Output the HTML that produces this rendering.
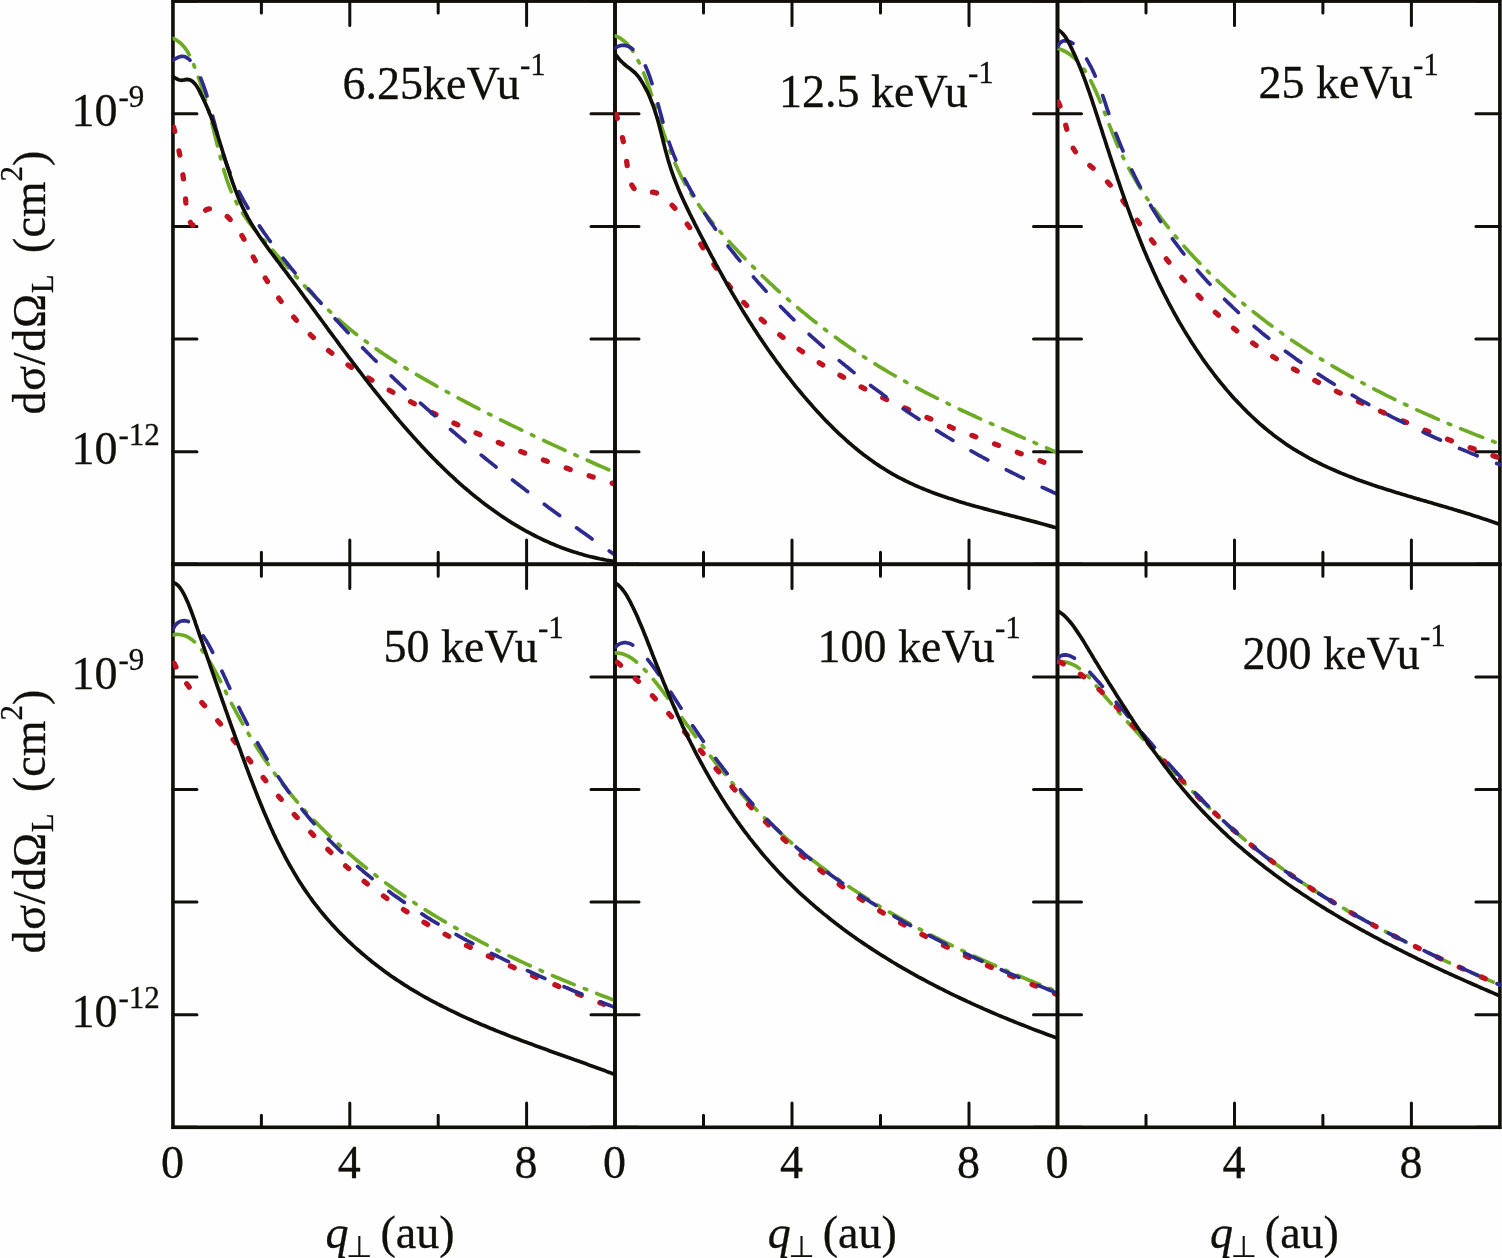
<!DOCTYPE html>
<html lang="en"><head><meta charset="utf-8"><title>Differential cross sections</title>
<style>html,body{margin:0;padding:0;background:#fefefe}body{width:1502px;height:1258px;overflow:hidden}svg{display:block}</style>
</head><body>
<svg width="1502" height="1258" viewBox="0 0 1502 1258" role="img" aria-label="Differential cross sections versus transverse momentum transfer for six impact energies">
<rect width="1502" height="1258" fill="#fefefe"/>
<defs>
<clipPath id="cp1"><rect x="172.55" y="1.1" width="444.25" height="564.9999999999999"/></clipPath>
<clipPath id="cp2"><rect x="614.60" y="1.1" width="444.70" height="564.9999999999999"/></clipPath>
<clipPath id="cp3"><rect x="1057.10" y="1.1" width="444.60" height="564.9999999999999"/></clipPath>
<clipPath id="cp4"><rect x="172.55" y="564.3" width="444.25" height="564.8"/></clipPath>
<clipPath id="cp5"><rect x="614.60" y="564.3" width="444.70" height="564.8"/></clipPath>
<clipPath id="cp6"><rect x="1057.10" y="564.3" width="444.60" height="564.8"/></clipPath>
</defs>
<g fill="none" stroke="#100f0a">
<rect x="172.95" y="1.1" width="442.05" height="563.20" stroke-width="3.6"/>
<path d="M261.4 1.1v12.0M261.4 564.3v-12.0M349.8 1.1v24.3M349.8 564.3v-24.3M438.2 1.1v12.0M438.2 564.3v-12.0M526.6 1.1v24.3M526.6 564.3v-24.3M172.95 1.1h24.0M615.0 1.1h-24.0M172.95 113.7h24.0M615.0 113.7h-24.0M172.95 226.4h24.0M615.0 226.4h-24.0M172.95 339.0h24.0M615.0 339.0h-24.0M172.95 451.7h24.0M615.0 451.7h-24.0M172.95 564.3h24.0M615.0 564.3h-24.0" stroke-width="3.0" stroke-linecap="round"/>
</g>
<g clip-path="url(#cp1)" fill="none" stroke-linecap="round" stroke-linejoin="round">
<path d="M173.1 38.4L175.8 39.8L178.4 41.5L180.7 43.3L182.7 45.4L184.7 47.6L186.4 50.0L188.0 52.5L189.4 55.1L190.8 57.8L192.0 60.6L193.2 63.4L194.3 66.2L195.4 69.1L196.5 72.0L197.5 74.8L198.5 77.7L199.5 80.6L200.5 83.4L201.4 86.3L202.3 89.2L203.2 92.1L204.1 94.9L205.0 97.8L205.8 100.7L206.7 103.6L207.5 106.5L208.3 109.4L209.1 112.3L209.8 115.2L210.6 118.1L211.4 121.0L212.1 123.9L212.8 126.8L213.6 129.8L214.3 132.7L215.0 135.6L215.7 138.6L216.5 141.5L217.2 144.5L217.9 147.4L218.6 150.4L219.4 153.3L220.1 156.3L220.9 159.2L221.6 162.2L222.4 165.1L223.3 168.0L224.1 170.9L225.0 173.8L225.9 176.7L226.8 179.6L227.8 182.5L228.8 185.3L229.9 188.1L231.0 190.9L232.2 193.6L233.4 196.4L234.6 199.1L236.0 201.7L237.3 204.4L238.8 207.0L240.3 209.5L241.9 212.1L243.5 214.6L245.2 217.0L246.9 219.5L248.7 221.9L250.6 224.3L252.4 226.6L254.3 229.0L256.3 231.3L258.2 233.6L260.2 236.0L262.2 238.3L264.2 240.5L266.2 242.8L268.2 245.1L270.2 247.4L272.2 249.7L274.2 252.0L276.1 254.3L278.1 256.5L280.1 258.8L282.2 261.1L284.2 263.4L286.2 265.6L288.2 267.9L290.2 270.1L292.2 272.4L294.2 274.6L296.3 276.9L298.3 279.1L300.3 281.3L302.4 283.5L304.4 285.7L306.5 287.9L308.6 290.1L310.6 292.3L312.7 294.4L314.8 296.6L316.9 298.7L319.0 300.9L321.2 303.0L323.3 305.1L325.4 307.2L327.6 309.3L329.8 311.3L332.0 313.4L334.2 315.4L336.4 317.4L338.6 319.4L340.9 321.4L343.1 323.4L345.4 325.3L347.7 327.3L350.0 329.2L352.3 331.1L354.7 333.0L357.1 334.8L359.4 336.7L361.8 338.5L364.2 340.3L366.7 342.1L369.1 343.9L371.6 345.7L374.0 347.4L376.5 349.1L379.0 350.9L381.5 352.6L384.0 354.3L386.5 355.9L389.0 357.6L391.6 359.3L394.1 360.9L396.7 362.5L399.3 364.1L401.8 365.7L404.4 367.3L407.0 368.9L409.6 370.5L412.2 372.1L414.8 373.6L417.4 375.1L420.1 376.7L422.7 378.2L425.3 379.7L427.9 381.2L430.6 382.7L433.2 384.2L435.9 385.7L438.5 387.2L441.1 388.7L443.8 390.1L446.4 391.6L449.1 393.0L451.7 394.5L454.4 395.9L457.0 397.4L459.7 398.8L462.4 400.2L465.0 401.6L467.7 403.0L470.4 404.4L473.0 405.8L475.7 407.2L478.4 408.6L481.1 410.0L483.8 411.3L486.4 412.7L489.1 414.1L491.8 415.4L494.5 416.8L497.2 418.1L499.9 419.5L502.6 420.8L505.3 422.1L508.0 423.5L510.7 424.8L513.4 426.1L516.1 427.4L518.8 428.7L521.5 430.0L524.2 431.3L527.0 432.6L529.7 433.9L532.4 435.2L535.1 436.5L537.8 437.8L540.6 439.0L543.3 440.3L546.0 441.6L548.8 442.9L551.5 444.1L554.2 445.4L557.0 446.6L559.7 447.9L562.5 449.1L565.2 450.4L568.0 451.6L570.7 452.9L573.5 454.1L576.2 455.4L579.0 456.6L581.7 457.8L584.5 459.1L587.3 460.3L590.0 461.5L592.8 462.7L595.6 464.0L598.3 465.2L601.1 466.4L603.9 467.6L606.7 468.8L609.4 470.1L612.2 471.3L615.0 472.5" stroke="#6eab24" stroke-width="3.7" stroke-dasharray="23.5 10.8 2.6 10.9" stroke-dashoffset="0"/>
<path d="M173.0 125.0L173.8 127.9L174.5 130.8L175.3 133.7L176.0 136.6L176.6 139.6L177.3 142.5L177.9 145.5L178.5 148.4L179.1 151.4L179.7 154.4L180.2 157.4L180.8 160.3L181.3 163.3L181.7 166.3L182.2 169.3L182.6 172.3L183.0 175.3L183.4 178.3L183.8 181.3L184.2 184.3L184.5 187.3L184.8 190.3L185.1 193.3L185.4 196.2L185.6 199.2L185.8 202.2L186.1 205.2L186.4 208.1L186.8 211.1L187.4 214.1L188.2 217.1L189.3 220.1L190.8 223.1L192.5 225.2L194.4 225.1L196.3 223.1L198.3 220.0L200.3 216.6L202.2 213.6L204.2 211.3L206.4 209.6L209.1 208.8L212.1 208.7L215.3 209.2L218.2 210.2L220.9 211.6L223.5 213.2L225.8 215.1L228.0 217.2L230.1 219.4L232.1 221.6L234.0 223.9L235.8 226.3L237.5 228.7L239.1 231.2L240.7 233.7L242.3 236.3L243.8 238.9L245.3 241.6L246.7 244.2L248.1 246.9L249.5 249.6L250.9 252.3L252.3 255.1L253.7 257.8L255.2 260.5L256.6 263.1L258.1 265.8L259.6 268.5L261.1 271.1L262.7 273.7L264.2 276.3L265.8 278.9L267.5 281.5L269.1 284.1L270.7 286.6L272.4 289.1L274.1 291.6L275.9 294.1L277.6 296.6L279.4 299.1L281.2 301.5L283.0 303.9L284.8 306.3L286.7 308.7L288.6 311.0L290.5 313.3L292.4 315.7L294.4 317.9L296.4 320.2L298.4 322.4L300.4 324.6L302.5 326.8L304.6 329.0L306.7 331.1L308.8 333.2L311.0 335.3L313.2 337.4L315.4 339.4L317.6 341.4L319.9 343.4L322.1 345.3L324.4 347.3L326.8 349.2L329.1 351.0L331.5 352.9L333.9 354.7L336.3 356.5L338.7 358.3L341.1 360.1L343.6 361.8L346.0 363.6L348.5 365.3L351.0 367.0L353.5 368.7L356.1 370.3L358.6 371.9L361.1 373.6L363.7 375.2L366.3 376.8L368.9 378.3L371.5 379.9L374.1 381.5L376.7 383.0L379.3 384.5L381.9 386.0L384.5 387.5L387.2 389.0L389.8 390.5L392.5 392.0L395.1 393.4L397.8 394.9L400.4 396.3L403.1 397.8L405.7 399.2L408.4 400.6L411.1 402.0L413.7 403.4L416.4 404.8L419.1 406.2L421.8 407.5L424.5 408.9L427.2 410.2L429.9 411.6L432.6 412.9L435.3 414.2L438.0 415.5L440.7 416.9L443.4 418.2L446.1 419.4L448.9 420.7L451.6 422.0L454.3 423.3L457.1 424.5L459.8 425.8L462.5 427.0L465.3 428.3L468.0 429.5L470.8 430.7L473.5 431.9L476.3 433.1L479.1 434.3L481.8 435.5L484.6 436.7L487.4 437.9L490.2 439.1L492.9 440.2L495.7 441.4L498.5 442.5L501.3 443.7L504.1 444.8L506.9 445.9L509.7 447.1L512.5 448.2L515.3 449.3L518.1 450.4L520.9 451.5L523.7 452.6L526.6 453.7L529.4 454.7L532.2 455.8L535.0 456.9L537.9 457.9L540.7 459.0L543.5 460.0L546.4 461.0L549.2 462.1L552.0 463.1L554.9 464.1L557.7 465.1L560.6 466.1L563.4 467.1L566.3 468.1L569.1 469.1L572.0 470.1L574.8 471.0L577.7 472.0L580.5 473.0L583.4 473.9L586.3 474.9L589.1 475.8L592.0 476.7L594.9 477.7L597.7 478.6L600.6 479.5L603.5 480.4L606.4 481.3L609.2 482.2L612.1 483.1L615.0 484.0" stroke="#c1121f" stroke-width="5.3" stroke-dasharray="4.2 20.0" stroke-dashoffset="-2.4"/>
<path d="M173.0 60.0L175.1 58.9L178.2 57.3L181.6 56.3L184.6 56.5L187.1 57.9L189.4 59.6L191.4 61.7L193.3 63.9L195.0 66.3L196.5 68.9L197.9 71.6L199.2 74.4L200.4 77.3L201.5 80.2L202.6 83.1L203.7 86.0L204.7 88.9L205.7 91.8L206.6 94.7L207.5 97.7L208.4 100.6L209.2 103.6L210.1 106.5L210.9 109.5L211.7 112.5L212.5 115.4L213.2 118.4L214.0 121.3L214.8 124.3L215.5 127.2L216.3 130.2L217.1 133.1L217.8 136.0L218.6 139.0L219.4 141.9L220.3 144.8L221.1 147.7L222.0 150.6L222.9 153.4L223.8 156.3L224.8 159.1L225.8 162.0L226.8 164.8L227.9 167.6L229.0 170.4L230.2 173.1L231.3 175.9L232.6 178.6L233.8 181.3L235.1 184.0L236.4 186.7L237.7 189.4L239.1 192.1L240.5 194.7L241.9 197.4L243.3 200.0L244.8 202.6L246.3 205.2L247.8 207.8L249.4 210.4L251.0 212.9L252.6 215.5L254.2 218.0L255.8 220.6L257.5 223.1L259.2 225.6L260.9 228.1L262.6 230.6L264.3 233.1L266.1 235.5L267.8 238.0L269.6 240.5L271.4 242.9L273.2 245.3L275.1 247.8L276.9 250.2L278.8 252.6L280.6 255.0L282.5 257.4L284.4 259.8L286.3 262.2L288.2 264.5L290.1 266.9L292.0 269.3L294.0 271.6L295.9 273.9L297.8 276.3L299.8 278.6L301.7 280.9L303.7 283.3L305.7 285.6L307.6 287.9L309.6 290.2L311.6 292.5L313.6 294.8L315.6 297.1L317.6 299.4L319.6 301.6L321.6 303.9L323.6 306.2L325.6 308.4L327.7 310.7L329.7 312.9L331.7 315.2L333.8 317.4L335.8 319.6L337.9 321.8L340.0 324.1L342.0 326.3L344.1 328.5L346.2 330.7L348.3 332.9L350.3 335.1L352.4 337.2L354.5 339.4L356.6 341.6L358.7 343.8L360.9 345.9L363.0 348.1L365.1 350.2L367.2 352.4L369.4 354.5L371.5 356.7L373.6 358.8L375.8 360.9L377.9 363.0L380.1 365.1L382.2 367.3L384.4 369.4L386.6 371.5L388.8 373.6L390.9 375.6L393.1 377.7L395.3 379.8L397.5 381.9L399.7 384.0L401.9 386.0L404.1 388.1L406.3 390.1L408.6 392.2L410.8 394.2L413.0 396.3L415.2 398.3L417.5 400.3L419.7 402.4L421.9 404.4L424.2 406.4L426.4 408.4L428.7 410.4L431.0 412.4L433.2 414.4L435.5 416.4L437.8 418.4L440.0 420.4L442.3 422.4L444.6 424.4L446.9 426.3L449.2 428.3L451.5 430.3L453.8 432.2L456.1 434.2L458.4 436.1L460.7 438.1L463.0 440.0L465.3 442.0L467.6 443.9L470.0 445.8L472.3 447.8L474.6 449.7L477.0 451.6L479.3 453.5L481.6 455.4L484.0 457.3L486.3 459.2L488.7 461.1L491.1 463.0L493.4 464.9L495.8 466.8L498.1 468.7L500.5 470.6L502.9 472.4L505.3 474.3L507.6 476.2L510.0 478.0L512.4 479.9L514.8 481.7L517.2 483.6L519.6 485.4L522.0 487.3L524.4 489.1L526.8 491.0L529.2 492.8L531.6 494.6L534.0 496.5L536.4 498.3L538.8 500.1L541.3 501.9L543.7 503.7L546.1 505.6L548.5 507.4L551.0 509.2L553.4 511.0L555.8 512.8L558.3 514.6L560.7 516.4L563.2 518.1L565.6 519.9L568.1 521.7L570.5 523.5L573.0 525.3L575.4 527.0L577.9 528.8L580.3 530.6L582.8 532.3L585.3 534.1L587.7 535.8L590.2 537.6L592.7 539.4L595.1 541.1L597.6 542.8L600.1 544.6L602.6 546.3L605.1 548.1L607.5 549.8L610.0 551.5L612.5 553.3L615.0 555.0" stroke="#2e2b8f" stroke-width="3.7" stroke-dasharray="19 21" stroke-dashoffset="0"/>
<path d="M173.0 76.5L175.5 78.2L178.2 79.7L181.1 80.3L184.1 79.9L187.0 79.4L189.9 79.9L192.5 81.4L194.8 83.6L196.6 86.0L198.2 88.6L199.5 91.2L200.8 93.9L202.2 96.6L203.5 99.4L204.7 102.1L206.0 104.9L207.2 107.6L208.4 110.4L209.5 113.2L210.7 116.0L211.7 118.8L212.8 121.6L213.8 124.4L214.8 127.3L215.8 130.1L216.8 133.0L217.8 135.8L218.7 138.7L219.6 141.6L220.5 144.5L221.4 147.4L222.3 150.3L223.2 153.2L224.1 156.1L225.0 159.0L225.9 161.9L226.8 164.8L227.7 167.7L228.7 170.6L229.6 173.5L230.5 176.3L231.5 179.2L232.5 182.1L233.5 184.9L234.5 187.7L235.6 190.6L236.7 193.4L237.8 196.2L238.9 198.9L240.1 201.7L241.3 204.4L242.6 207.2L243.9 209.9L245.2 212.5L246.6 215.2L248.0 217.8L249.5 220.4L251.0 223.0L252.6 225.6L254.2 228.2L255.8 230.7L257.5 233.2L259.1 235.7L260.8 238.2L262.6 240.7L264.3 243.2L266.1 245.7L267.9 248.1L269.7 250.6L271.5 253.0L273.3 255.4L275.2 257.9L277.0 260.3L278.9 262.7L280.7 265.1L282.5 267.6L284.4 270.0L286.2 272.4L288.0 274.8L289.8 277.3L291.6 279.7L293.4 282.1L295.3 284.6L297.1 287.0L298.9 289.4L300.7 291.9L302.5 294.3L304.2 296.7L306.0 299.2L307.8 301.6L309.6 304.0L311.4 306.5L313.2 308.9L315.0 311.3L316.7 313.7L318.5 316.2L320.3 318.6L322.1 321.0L323.9 323.5L325.7 325.9L327.4 328.3L329.2 330.8L331.0 333.2L332.8 335.6L334.6 338.0L336.4 340.4L338.2 342.9L339.9 345.3L341.7 347.7L343.5 350.1L345.3 352.5L347.1 354.9L348.9 357.3L350.7 359.7L352.5 362.1L354.4 364.5L356.2 366.9L358.0 369.3L359.8 371.7L361.7 374.1L363.5 376.5L365.3 378.9L367.2 381.2L369.0 383.6L370.9 386.0L372.7 388.4L374.6 390.7L376.5 393.1L378.4 395.4L380.3 397.8L382.1 400.1L384.0 402.5L386.0 404.8L387.9 407.2L389.8 409.5L391.7 411.8L393.7 414.1L395.6 416.5L397.6 418.8L399.5 421.1L401.5 423.4L403.5 425.7L405.5 428.0L407.5 430.3L409.5 432.5L411.5 434.8L413.5 437.1L415.6 439.3L417.6 441.6L419.7 443.8L421.7 446.1L423.8 448.3L425.9 450.5L428.0 452.7L430.1 454.9L432.2 457.1L434.3 459.2L436.5 461.4L438.6 463.6L440.8 465.7L443.0 467.8L445.1 469.9L447.3 472.0L449.5 474.1L451.8 476.2L454.0 478.2L456.2 480.3L458.5 482.3L460.7 484.3L463.0 486.3L465.3 488.3L467.6 490.2L469.9 492.2L472.2 494.1L474.5 496.0L476.9 497.9L479.3 499.8L481.6 501.6L484.0 503.5L486.4 505.3L488.8 507.1L491.2 508.8L493.7 510.6L496.1 512.3L498.6 514.0L501.0 515.7L503.5 517.4L506.0 519.0L508.5 520.7L511.1 522.3L513.6 523.8L516.2 525.4L518.7 526.9L521.3 528.4L523.9 529.9L526.5 531.3L529.1 532.7L531.8 534.1L534.4 535.5L537.1 536.9L539.8 538.2L542.5 539.5L545.2 540.7L547.9 541.9L550.7 543.2L553.4 544.3L556.2 545.5L559.0 546.6L561.8 547.7L564.6 548.7L567.5 549.7L570.3 550.7L573.2 551.7L576.1 552.6L579.0 553.5L581.9 554.3L584.8 555.2L587.8 556.0L590.7 556.7L593.7 557.4L596.7 558.1L599.7 558.8L602.7 559.4L605.8 560.0L608.9 560.5L611.9 561.0L615.0 561.5" stroke="#100f0a" stroke-width="3.7" stroke-linecap="butt"/>
</g>
<g fill="none" stroke="#100f0a">
<rect x="615.0" y="1.1" width="442.50" height="563.20" stroke-width="3.6"/>
<path d="M703.5 1.1v12.0M703.5 564.3v-12.0M792.0 1.1v24.3M792.0 564.3v-24.3M880.5 1.1v12.0M880.5 564.3v-12.0M969.0 1.1v24.3M969.0 564.3v-24.3M615.0 1.1h24.0M1057.5 1.1h-24.0M615.0 113.7h24.0M1057.5 113.7h-24.0M615.0 226.4h24.0M1057.5 226.4h-24.0M615.0 339.0h24.0M1057.5 339.0h-24.0M615.0 451.7h24.0M1057.5 451.7h-24.0M615.0 564.3h24.0M1057.5 564.3h-24.0" stroke-width="3.0" stroke-linecap="round"/>
</g>
<g clip-path="url(#cp2)" fill="none" stroke-linecap="round" stroke-linejoin="round">
<path d="M615.5 35.9L618.3 37.2L620.9 38.7L623.3 40.4L625.5 42.3L627.6 44.4L629.5 46.6L631.3 48.9L633.0 51.4L634.6 53.9L636.0 56.6L637.4 59.3L638.8 62.0L640.1 64.7L641.3 67.5L642.5 70.3L643.7 73.1L644.8 75.9L645.9 78.7L646.9 81.6L648.0 84.4L649.0 87.3L650.0 90.2L650.9 93.0L651.9 95.9L652.8 98.8L653.7 101.7L654.6 104.6L655.5 107.5L656.4 110.4L657.3 113.3L658.2 116.2L659.1 119.1L660.0 122.0L661.0 124.9L661.9 127.8L662.8 130.7L663.8 133.5L664.8 136.4L665.7 139.2L666.7 142.1L667.8 144.9L668.8 147.7L669.9 150.5L671.0 153.3L672.1 156.1L673.2 158.9L674.4 161.6L675.5 164.4L676.8 167.1L678.0 169.8L679.3 172.5L680.6 175.2L681.9 177.8L683.3 180.5L684.7 183.1L686.2 185.7L687.7 188.2L689.3 190.8L690.8 193.3L692.4 195.8L694.1 198.3L695.8 200.8L697.5 203.3L699.3 205.7L701.0 208.1L702.8 210.5L704.7 212.9L706.5 215.3L708.4 217.7L710.3 220.0L712.2 222.3L714.2 224.7L716.1 227.0L718.1 229.3L720.1 231.5L722.1 233.8L724.1 236.1L726.1 238.3L728.2 240.6L730.2 242.8L732.2 245.1L734.3 247.3L736.4 249.5L738.4 251.7L740.5 253.9L742.6 256.1L744.7 258.3L746.8 260.4L748.9 262.6L751.0 264.8L753.2 266.9L755.3 269.0L757.5 271.1L759.6 273.3L761.8 275.4L764.0 277.5L766.2 279.5L768.3 281.6L770.5 283.7L772.8 285.7L775.0 287.8L777.2 289.8L779.4 291.8L781.7 293.8L783.9 295.8L786.2 297.8L788.5 299.8L790.7 301.8L793.0 303.8L795.3 305.7L797.6 307.7L799.9 309.6L802.2 311.5L804.6 313.4L806.9 315.3L809.2 317.2L811.6 319.1L813.9 321.0L816.3 322.8L818.7 324.7L821.1 326.5L823.5 328.4L825.9 330.2L828.3 332.0L830.7 333.8L833.1 335.6L835.5 337.3L838.0 339.1L840.4 340.9L842.9 342.6L845.3 344.3L847.8 346.0L850.3 347.8L852.7 349.4L855.2 351.1L857.7 352.8L860.2 354.5L862.8 356.1L865.3 357.8L867.8 359.4L870.4 361.0L872.9 362.6L875.5 364.2L878.0 365.8L880.6 367.3L883.2 368.9L885.7 370.4L888.3 372.0L890.9 373.5L893.5 375.0L896.2 376.5L898.8 378.0L901.4 379.5L904.0 380.9L906.7 382.4L909.3 383.9L912.0 385.3L914.6 386.7L917.3 388.1L920.0 389.5L922.6 390.9L925.3 392.3L928.0 393.7L930.7 395.1L933.4 396.4L936.1 397.8L938.8 399.1L941.5 400.5L944.2 401.8L946.9 403.1L949.6 404.5L952.4 405.8L955.1 407.1L957.8 408.4L960.6 409.7L963.3 411.0L966.0 412.2L968.8 413.5L971.5 414.8L974.3 416.0L977.0 417.3L979.8 418.6L982.5 419.8L985.3 421.0L988.0 422.3L990.8 423.5L993.6 424.8L996.3 426.0L999.1 427.2L1001.8 428.4L1004.6 429.6L1007.4 430.9L1010.1 432.1L1012.9 433.3L1015.7 434.5L1018.4 435.7L1021.2 436.9L1023.9 438.1L1026.7 439.3L1029.5 440.5L1032.2 441.7L1035.0 442.9L1037.7 444.1L1040.5 445.3L1043.3 446.5L1046.0 447.7L1048.8 448.9L1051.5 450.1L1054.3 451.3L1057.0 452.5" stroke="#6eab24" stroke-width="3.7" stroke-dasharray="23.5 10.8 2.6 10.9" stroke-dashoffset="0"/>
<path d="M615.4 112.0L616.3 114.9L617.2 117.7L618.1 120.6L618.9 123.5L619.7 126.5L620.5 129.4L621.2 132.3L621.9 135.2L622.6 138.2L623.2 141.1L623.8 144.1L624.4 147.0L624.9 149.9L625.4 152.9L625.9 155.9L626.3 158.9L626.7 161.9L627.1 164.9L627.5 168.0L627.8 171.1L628.3 174.1L628.9 177.1L629.7 180.0L630.8 182.9L632.1 185.6L633.8 188.2L635.9 190.5L638.3 192.2L641.0 193.0L644.0 193.0L647.1 192.6L650.3 192.2L653.3 192.2L656.1 192.8L658.9 193.9L661.4 195.4L663.9 197.2L666.3 199.3L668.6 201.5L670.8 203.9L673.0 206.2L675.1 208.6L677.1 211.0L679.1 213.5L681.0 215.9L682.9 218.3L684.8 220.8L686.6 223.3L688.4 225.8L690.2 228.2L691.9 230.7L693.6 233.2L695.3 235.7L697.0 238.3L698.6 240.8L700.2 243.3L701.8 245.8L703.4 248.3L705.0 250.8L706.6 253.3L708.2 255.8L709.8 258.3L711.4 260.8L713.1 263.3L714.7 265.7L716.3 268.2L718.0 270.6L719.7 273.1L721.4 275.5L723.1 277.9L724.9 280.2L726.7 282.6L728.5 285.0L730.3 287.3L732.2 289.6L734.2 291.9L736.1 294.1L738.1 296.4L740.1 298.6L742.2 300.8L744.3 303.0L746.4 305.2L748.5 307.3L750.7 309.4L752.9 311.6L755.1 313.6L757.3 315.7L759.5 317.8L761.8 319.8L764.1 321.8L766.4 323.8L768.7 325.8L771.0 327.8L773.4 329.7L775.7 331.6L778.1 333.5L780.5 335.4L782.9 337.3L785.3 339.1L787.7 341.0L790.1 342.8L792.5 344.6L795.0 346.3L797.4 348.1L799.9 349.9L802.4 351.6L804.9 353.3L807.4 355.0L809.9 356.7L812.4 358.3L814.9 360.0L817.4 361.6L820.0 363.2L822.5 364.8L825.1 366.4L827.6 368.0L830.2 369.5L832.8 371.1L835.4 372.6L838.0 374.1L840.6 375.6L843.2 377.1L845.8 378.6L848.4 380.1L851.1 381.5L853.7 382.9L856.4 384.4L859.0 385.8L861.7 387.2L864.4 388.6L867.0 389.9L869.7 391.3L872.4 392.6L875.1 394.0L877.8 395.3L880.5 396.6L883.2 397.9L885.9 399.2L888.7 400.5L891.4 401.8L894.1 403.1L896.9 404.3L899.6 405.6L902.4 406.8L905.1 408.1L907.9 409.3L910.6 410.5L913.4 411.7L916.2 412.9L918.9 414.1L921.7 415.3L924.5 416.5L927.3 417.6L930.1 418.8L932.9 419.9L935.7 421.1L938.5 422.2L941.3 423.4L944.1 424.5L946.9 425.6L949.7 426.7L952.5 427.9L955.3 429.0L958.1 430.1L960.9 431.2L963.8 432.3L966.6 433.3L969.4 434.4L972.2 435.5L975.1 436.6L977.9 437.7L980.7 438.7L983.5 439.8L986.4 440.9L989.2 441.9L992.0 443.0L994.9 444.0L997.7 445.1L1000.5 446.1L1003.4 447.2L1006.2 448.2L1009.0 449.3L1011.9 450.3L1014.7 451.4L1017.5 452.4L1020.3 453.4L1023.2 454.5L1026.0 455.5L1028.8 456.6L1031.6 457.6L1034.5 458.6L1037.3 459.7L1040.1 460.7L1042.9 461.8L1045.7 462.8L1048.6 463.9L1051.4 464.9L1054.2 466.0L1057.0 467.0" stroke="#c1121f" stroke-width="5.3" stroke-dasharray="4.2 20.0" stroke-dashoffset="-2.4"/>
<path d="M615.4 47.9L618.5 46.2L621.5 45.3L624.3 45.3L627.0 45.9L629.6 47.0L632.0 48.6L634.3 50.4L636.4 52.4L638.3 54.6L640.1 57.0L641.8 59.4L643.3 62.0L644.8 64.7L646.1 67.5L647.3 70.4L648.5 73.3L649.6 76.3L650.6 79.3L651.6 82.3L652.6 85.3L653.5 88.3L654.4 91.3L655.2 94.3L656.1 97.3L656.9 100.3L657.8 103.3L658.6 106.3L659.4 109.2L660.2 112.2L661.0 115.1L661.8 118.0L662.6 120.9L663.4 123.8L664.2 126.7L665.1 129.6L665.9 132.5L666.8 135.4L667.7 138.2L668.7 141.1L669.6 143.9L670.6 146.7L671.6 149.5L672.7 152.3L673.8 155.1L674.9 157.8L676.1 160.6L677.2 163.3L678.5 166.1L679.7 168.8L681.0 171.5L682.3 174.2L683.6 176.9L684.9 179.5L686.3 182.2L687.7 184.9L689.2 187.5L690.6 190.1L692.1 192.7L693.6 195.4L695.1 198.0L696.7 200.5L698.2 203.1L699.8 205.7L701.4 208.2L703.0 210.8L704.7 213.3L706.4 215.8L708.0 218.4L709.7 220.9L711.5 223.4L713.2 225.8L714.9 228.3L716.7 230.8L718.5 233.2L720.3 235.7L722.1 238.1L723.9 240.5L725.7 243.0L727.6 245.4L729.4 247.8L731.3 250.2L733.2 252.5L735.1 254.9L736.9 257.3L738.9 259.6L740.8 262.0L742.7 264.3L744.6 266.6L746.6 269.0L748.5 271.3L750.5 273.6L752.5 275.8L754.4 278.1L756.4 280.4L758.4 282.7L760.5 284.9L762.5 287.2L764.5 289.4L766.5 291.6L768.6 293.9L770.7 296.1L772.7 298.3L774.8 300.5L776.9 302.6L779.0 304.8L781.1 307.0L783.2 309.1L785.3 311.3L787.5 313.4L789.6 315.6L791.7 317.7L793.9 319.8L796.1 321.9L798.2 324.0L800.4 326.1L802.6 328.1L804.8 330.2L807.0 332.3L809.2 334.3L811.4 336.4L813.7 338.4L815.9 340.4L818.2 342.4L820.4 344.4L822.7 346.4L824.9 348.4L827.2 350.4L829.5 352.4L831.8 354.3L834.1 356.3L836.4 358.2L838.7 360.2L841.1 362.1L843.4 364.0L845.7 365.9L848.1 367.8L850.4 369.7L852.8 371.6L855.1 373.5L857.5 375.4L859.9 377.2L862.3 379.1L864.7 380.9L867.1 382.8L869.5 384.6L871.9 386.4L874.3 388.2L876.8 390.0L879.2 391.8L881.6 393.6L884.1 395.4L886.5 397.1L889.0 398.9L891.5 400.6L893.9 402.4L896.4 404.1L898.9 405.8L901.4 407.5L903.9 409.2L906.4 410.9L908.9 412.6L911.4 414.3L913.9 416.0L916.5 417.6L919.0 419.3L921.5 420.9L924.1 422.6L926.6 424.2L929.2 425.8L931.7 427.5L934.3 429.1L936.9 430.7L939.4 432.2L942.0 433.8L944.6 435.4L947.2 437.0L949.8 438.5L952.4 440.1L955.0 441.6L957.6 443.1L960.2 444.7L962.8 446.2L965.4 447.7L968.1 449.2L970.7 450.7L973.3 452.1L976.0 453.6L978.6 455.1L981.3 456.5L983.9 458.0L986.6 459.4L989.3 460.8L991.9 462.3L994.6 463.7L997.3 465.1L999.9 466.5L1002.6 467.9L1005.3 469.3L1008.0 470.6L1010.7 472.0L1013.4 473.4L1016.1 474.7L1018.8 476.1L1021.5 477.4L1024.2 478.7L1026.9 480.0L1029.6 481.3L1032.4 482.6L1035.1 483.9L1037.8 485.2L1040.6 486.5L1043.3 487.8L1046.0 489.0L1048.8 490.3L1051.5 491.5L1054.2 492.8L1057.0 494.0" stroke="#2e2b8f" stroke-width="3.7" stroke-dasharray="19 21" stroke-dashoffset="0"/>
<path d="M615.4 54.5L617.3 56.8L619.3 59.2L621.3 61.4L623.5 63.5L625.8 65.5L628.1 67.3L630.6 69.1L632.9 71.0L635.2 73.0L637.2 75.2L639.1 77.6L640.8 80.1L642.4 82.7L643.9 85.3L645.4 88.0L646.8 90.6L648.1 93.3L649.3 96.1L650.5 98.9L651.6 101.7L652.7 104.5L653.7 107.3L654.7 110.2L655.6 113.1L656.5 116.0L657.4 118.9L658.2 121.8L659.0 124.7L659.8 127.7L660.5 130.6L661.3 133.6L662.0 136.6L662.8 139.5L663.5 142.5L664.3 145.5L665.0 148.4L665.8 151.4L666.6 154.3L667.4 157.3L668.2 160.2L669.1 163.1L670.0 166.0L670.9 168.9L671.9 171.8L672.9 174.6L673.9 177.5L675.0 180.3L676.1 183.1L677.2 185.9L678.3 188.7L679.5 191.4L680.7 194.2L681.9 196.9L683.2 199.7L684.4 202.4L685.7 205.1L687.0 207.9L688.3 210.6L689.6 213.3L691.0 216.0L692.3 218.7L693.7 221.4L695.0 224.1L696.4 226.8L697.8 229.5L699.1 232.2L700.5 234.8L701.9 237.5L703.3 240.2L704.7 242.9L706.1 245.6L707.5 248.3L708.9 250.9L710.3 253.6L711.7 256.3L713.2 258.9L714.6 261.6L716.0 264.3L717.5 266.9L718.9 269.6L720.4 272.2L721.9 274.9L723.3 277.5L724.8 280.2L726.3 282.8L727.8 285.4L729.3 288.1L730.8 290.7L732.3 293.3L733.9 295.9L735.4 298.5L737.0 301.1L738.5 303.7L740.1 306.3L741.6 308.9L743.2 311.5L744.8 314.1L746.4 316.6L748.0 319.2L749.6 321.8L751.3 324.3L752.9 326.9L754.5 329.4L756.2 331.9L757.8 334.5L759.5 337.0L761.2 339.5L762.9 342.0L764.6 344.5L766.3 347.0L768.0 349.5L769.8 352.0L771.5 354.4L773.3 356.9L775.0 359.3L776.8 361.8L778.6 364.2L780.4 366.7L782.2 369.1L784.0 371.5L785.9 373.9L787.7 376.3L789.6 378.7L791.5 381.1L793.3 383.4L795.2 385.8L797.1 388.1L799.1 390.5L801.0 392.8L802.9 395.1L804.9 397.4L806.9 399.8L808.9 402.0L810.9 404.3L812.9 406.6L814.9 408.9L816.9 411.1L819.0 413.3L821.1 415.6L823.1 417.8L825.2 420.0L827.3 422.1L829.5 424.3L831.6 426.4L833.8 428.6L835.9 430.7L838.1 432.8L840.3 434.9L842.6 436.9L844.8 438.9L847.0 441.0L849.3 443.0L851.6 444.9L853.9 446.9L856.2 448.8L858.6 450.7L860.9 452.6L863.3 454.4L865.7 456.2L868.1 458.0L870.5 459.8L873.0 461.5L875.4 463.3L877.9 464.9L880.4 466.6L883.0 468.2L885.5 469.8L888.1 471.4L890.6 472.9L893.2 474.4L895.9 475.8L898.5 477.3L901.2 478.7L903.9 480.0L906.5 481.3L909.3 482.7L912.0 483.9L914.7 485.2L917.5 486.4L920.3 487.6L923.1 488.7L925.9 489.9L928.7 491.0L931.5 492.1L934.4 493.2L937.2 494.2L940.1 495.2L943.0 496.2L945.9 497.2L948.8 498.2L951.7 499.1L954.6 500.1L957.5 501.0L960.4 501.9L963.4 502.8L966.3 503.7L969.2 504.5L972.2 505.4L975.1 506.2L978.1 507.0L981.1 507.8L984.0 508.6L987.0 509.4L989.9 510.2L992.9 511.0L995.9 511.8L998.8 512.5L1001.8 513.3L1004.7 514.1L1007.7 514.8L1010.7 515.6L1013.6 516.3L1016.6 517.1L1019.5 517.8L1022.4 518.6L1025.4 519.4L1028.3 520.1L1031.2 520.9L1034.1 521.6L1037.0 522.4L1039.9 523.2L1042.8 524.0L1045.6 524.8L1048.5 525.6L1051.3 526.4L1054.2 527.2L1057.0 528.0" stroke="#100f0a" stroke-width="3.7" stroke-linecap="butt"/>
</g>
<g fill="none" stroke="#100f0a">
<rect x="1057.5" y="1.1" width="442.40" height="563.20" stroke-width="3.6"/>
<path d="M1146.0 1.1v12.0M1146.0 564.3v-12.0M1234.5 1.1v24.3M1234.5 564.3v-24.3M1322.9 1.1v12.0M1322.9 564.3v-12.0M1411.4 1.1v24.3M1411.4 564.3v-24.3M1057.5 1.1h24.0M1499.9 1.1h-24.0M1057.5 113.7h24.0M1499.9 113.7h-24.0M1057.5 226.4h24.0M1499.9 226.4h-24.0M1057.5 339.0h24.0M1499.9 339.0h-24.0M1057.5 451.7h24.0M1499.9 451.7h-24.0M1057.5 564.3h24.0M1499.9 564.3h-24.0" stroke-width="3.0" stroke-linecap="round"/>
</g>
<g clip-path="url(#cp3)" fill="none" stroke-linecap="round" stroke-linejoin="round">
<path d="M1057.4 48.3L1060.4 49.3L1063.2 50.5L1065.9 51.9L1068.4 53.4L1070.8 55.1L1073.1 57.0L1075.3 58.9L1077.3 61.0L1079.3 63.2L1081.2 65.5L1083.0 67.9L1084.7 70.4L1086.3 73.0L1087.9 75.6L1089.4 78.2L1090.8 80.9L1092.2 83.7L1093.5 86.4L1094.8 89.1L1096.1 91.9L1097.3 94.7L1098.5 97.5L1099.7 100.3L1100.9 103.1L1102.0 105.9L1103.1 108.7L1104.2 111.5L1105.3 114.3L1106.4 117.1L1107.4 120.0L1108.5 122.8L1109.6 125.6L1110.7 128.4L1111.8 131.2L1112.9 134.0L1114.0 136.8L1115.1 139.6L1116.3 142.4L1117.5 145.2L1118.7 147.9L1120.0 150.7L1121.2 153.4L1122.5 156.1L1123.9 158.8L1125.2 161.5L1126.6 164.2L1128.0 166.9L1129.5 169.5L1130.9 172.2L1132.4 174.8L1133.9 177.4L1135.4 180.1L1137.0 182.7L1138.5 185.3L1140.1 187.8L1141.8 190.4L1143.4 192.9L1145.0 195.5L1146.7 198.0L1148.4 200.5L1150.1 203.0L1151.9 205.5L1153.6 208.0L1155.4 210.5L1157.2 212.9L1159.0 215.3L1160.8 217.8L1162.6 220.2L1164.5 222.6L1166.3 225.0L1168.2 227.3L1170.1 229.7L1172.0 232.0L1173.9 234.4L1175.9 236.7L1177.8 239.0L1179.8 241.3L1181.7 243.6L1183.7 245.8L1185.7 248.1L1187.7 250.3L1189.7 252.6L1191.8 254.8L1193.8 257.0L1195.9 259.2L1198.0 261.4L1200.1 263.5L1202.2 265.7L1204.3 267.8L1206.4 270.0L1208.5 272.1L1210.7 274.2L1212.8 276.3L1215.0 278.3L1217.2 280.4L1219.3 282.5L1221.5 284.5L1223.8 286.5L1226.0 288.6L1228.2 290.6L1230.5 292.6L1232.7 294.6L1235.0 296.5L1237.3 298.5L1239.5 300.4L1241.8 302.4L1244.1 304.3L1246.5 306.2L1248.8 308.1L1251.1 310.0L1253.5 311.9L1255.8 313.8L1258.2 315.6L1260.6 317.5L1263.0 319.3L1265.3 321.1L1267.7 322.9L1270.2 324.7L1272.6 326.5L1275.0 328.3L1277.4 330.1L1279.9 331.8L1282.3 333.6L1284.8 335.3L1287.3 337.1L1289.8 338.8L1292.2 340.5L1294.7 342.2L1297.2 343.9L1299.8 345.5L1302.3 347.2L1304.8 348.8L1307.3 350.5L1309.9 352.1L1312.4 353.7L1315.0 355.4L1317.5 357.0L1320.1 358.6L1322.7 360.1L1325.3 361.7L1327.9 363.3L1330.5 364.8L1333.1 366.4L1335.7 367.9L1338.3 369.4L1340.9 370.9L1343.5 372.4L1346.2 373.9L1348.8 375.4L1351.4 376.9L1354.1 378.4L1356.8 379.8L1359.4 381.3L1362.1 382.7L1364.8 384.1L1367.4 385.6L1370.1 387.0L1372.8 388.4L1375.5 389.8L1378.2 391.2L1380.9 392.5L1383.6 393.9L1386.3 395.3L1389.0 396.6L1391.7 397.9L1394.5 399.3L1397.2 400.6L1399.9 401.9L1402.7 403.2L1405.4 404.5L1408.1 405.8L1410.9 407.1L1413.6 408.4L1416.4 409.6L1419.1 410.9L1421.9 412.1L1424.7 413.4L1427.4 414.6L1430.2 415.8L1433.0 417.0L1435.7 418.3L1438.5 419.5L1441.3 420.6L1444.1 421.8L1446.9 423.0L1449.6 424.2L1452.4 425.3L1455.2 426.5L1458.0 427.6L1460.8 428.8L1463.6 429.9L1466.4 431.0L1469.2 432.1L1472.0 433.3L1474.8 434.4L1477.6 435.5L1480.4 436.5L1483.2 437.6L1486.0 438.7L1488.8 439.8L1491.6 440.8L1494.4 441.9L1497.2 442.9L1500.0 444.0" stroke="#6eab24" stroke-width="3.7" stroke-dasharray="23.5 10.8 2.6 10.9" stroke-dashoffset="0"/>
<path d="M1057.4 100.0L1058.6 102.7L1059.7 105.5L1060.8 108.3L1061.7 111.2L1062.7 114.1L1063.5 117.0L1064.3 119.9L1065.1 122.9L1065.9 125.9L1066.7 128.9L1067.5 131.9L1068.3 134.9L1069.1 137.9L1070.1 140.8L1071.1 143.6L1072.3 146.4L1073.7 149.0L1075.2 151.5L1077.0 153.9L1079.0 156.1L1081.1 158.2L1083.4 160.3L1085.7 162.2L1088.1 164.1L1090.5 166.1L1092.9 168.0L1095.2 170.0L1097.5 172.0L1099.7 174.1L1101.9 176.2L1104.0 178.3L1106.1 180.5L1108.2 182.7L1110.2 185.0L1112.1 187.2L1114.1 189.5L1116.0 191.9L1117.9 194.2L1119.7 196.6L1121.6 198.9L1123.4 201.3L1125.2 203.8L1127.0 206.2L1128.7 208.6L1130.5 211.1L1132.3 213.5L1134.0 216.0L1135.8 218.4L1137.6 220.9L1139.3 223.3L1141.1 225.8L1142.9 228.2L1144.7 230.7L1146.5 233.1L1148.3 235.6L1150.1 238.0L1151.9 240.4L1153.8 242.8L1155.6 245.3L1157.5 247.7L1159.3 250.1L1161.2 252.5L1163.1 254.8L1165.0 257.2L1166.9 259.6L1168.8 262.0L1170.7 264.3L1172.7 266.7L1174.6 269.0L1176.6 271.3L1178.5 273.6L1180.5 275.9L1182.5 278.2L1184.5 280.5L1186.5 282.8L1188.6 285.0L1190.6 287.3L1192.7 289.5L1194.7 291.7L1196.8 293.9L1198.9 296.1L1201.0 298.3L1203.1 300.4L1205.3 302.6L1207.4 304.7L1209.6 306.8L1211.7 308.9L1213.9 311.0L1216.1 313.1L1218.4 315.1L1220.6 317.1L1222.8 319.1L1225.1 321.1L1227.4 323.1L1229.7 325.1L1232.0 327.0L1234.3 328.9L1236.6 330.8L1239.0 332.7L1241.4 334.5L1243.8 336.4L1246.2 338.2L1248.6 340.0L1251.0 341.8L1253.5 343.5L1255.9 345.3L1258.4 347.0L1260.9 348.7L1263.4 350.4L1265.9 352.0L1268.4 353.7L1271.0 355.3L1273.5 357.0L1276.1 358.6L1278.7 360.1L1281.2 361.7L1283.8 363.3L1286.4 364.8L1289.1 366.4L1291.7 367.9L1294.3 369.4L1297.0 370.9L1299.6 372.3L1302.3 373.8L1305.0 375.2L1307.6 376.7L1310.3 378.1L1313.0 379.5L1315.7 380.9L1318.4 382.3L1321.1 383.7L1323.8 385.1L1326.6 386.4L1329.3 387.8L1332.0 389.1L1334.8 390.4L1337.5 391.8L1340.3 393.1L1343.0 394.4L1345.8 395.7L1348.5 396.9L1351.3 398.2L1354.1 399.5L1356.8 400.8L1359.6 402.0L1362.4 403.3L1365.1 404.5L1367.9 405.8L1370.7 407.0L1373.5 408.2L1376.2 409.4L1379.0 410.7L1381.8 411.9L1384.6 413.1L1387.3 414.3L1390.1 415.5L1392.9 416.7L1395.7 417.9L1398.4 419.1L1401.2 420.3L1404.0 421.4L1406.8 422.6L1409.5 423.8L1412.3 424.9L1415.1 426.1L1417.9 427.3L1420.7 428.4L1423.4 429.6L1426.2 430.7L1429.0 431.8L1431.8 433.0L1434.6 434.1L1437.4 435.2L1440.2 436.3L1443.0 437.4L1445.8 438.5L1448.6 439.6L1451.4 440.7L1454.2 441.8L1457.0 442.8L1459.9 443.9L1462.7 444.9L1465.5 446.0L1468.4 447.0L1471.2 448.1L1474.1 449.1L1476.9 450.1L1479.8 451.1L1482.7 452.1L1485.5 453.1L1488.4 454.1L1491.3 455.1L1494.2 456.1L1497.1 457.0L1500.0 458.0" stroke="#c1121f" stroke-width="5.3" stroke-dasharray="4.2 20.0" stroke-dashoffset="-2.4"/>
<path d="M1057.4 47.0L1059.6 43.3L1062.2 41.3L1064.9 40.6L1067.6 40.9L1070.3 41.9L1072.8 43.3L1075.2 44.9L1077.4 46.8L1079.5 49.0L1081.4 51.3L1083.3 53.8L1085.0 56.4L1086.7 59.1L1088.2 61.8L1089.7 64.6L1091.2 67.3L1092.5 70.1L1093.8 72.9L1095.1 75.7L1096.2 78.4L1097.4 81.2L1098.5 84.0L1099.6 86.8L1100.6 89.7L1101.6 92.5L1102.6 95.3L1103.6 98.1L1104.5 100.9L1105.5 103.7L1106.4 106.6L1107.3 109.4L1108.3 112.2L1109.2 115.0L1110.2 117.8L1111.2 120.7L1112.2 123.5L1113.2 126.3L1114.3 129.1L1115.3 131.9L1116.4 134.7L1117.5 137.5L1118.6 140.3L1119.7 143.1L1120.9 145.9L1122.1 148.7L1123.2 151.4L1124.5 154.2L1125.7 157.0L1126.9 159.7L1128.2 162.5L1129.4 165.2L1130.7 168.0L1132.1 170.7L1133.4 173.4L1134.7 176.2L1136.1 178.9L1137.5 181.6L1138.9 184.3L1140.3 187.0L1141.7 189.6L1143.2 192.3L1144.6 195.0L1146.1 197.6L1147.6 200.2L1149.1 202.9L1150.7 205.5L1152.2 208.1L1153.8 210.7L1155.4 213.2L1157.0 215.8L1158.6 218.4L1160.2 220.9L1161.9 223.4L1163.6 226.0L1165.2 228.5L1166.9 230.9L1168.7 233.4L1170.4 235.9L1172.1 238.3L1173.9 240.8L1175.7 243.2L1177.5 245.6L1179.3 248.0L1181.1 250.4L1183.0 252.8L1184.8 255.1L1186.7 257.5L1188.6 259.8L1190.5 262.1L1192.4 264.4L1194.3 266.7L1196.3 269.0L1198.2 271.3L1200.2 273.5L1202.2 275.8L1204.2 278.0L1206.2 280.2L1208.2 282.4L1210.3 284.6L1212.3 286.8L1214.4 289.0L1216.5 291.1L1218.6 293.3L1220.7 295.4L1222.8 297.6L1225.0 299.7L1227.1 301.8L1229.3 303.9L1231.4 305.9L1233.6 308.0L1235.8 310.0L1238.0 312.1L1240.2 314.1L1242.5 316.1L1244.7 318.1L1246.9 320.1L1249.2 322.1L1251.5 324.1L1253.8 326.0L1256.1 328.0L1258.4 329.9L1260.7 331.8L1263.0 333.8L1265.4 335.7L1267.7 337.5L1270.1 339.4L1272.4 341.3L1274.8 343.1L1277.2 345.0L1279.6 346.8L1282.0 348.7L1284.4 350.5L1286.9 352.3L1289.3 354.1L1291.7 355.8L1294.2 357.6L1296.6 359.4L1299.1 361.1L1301.6 362.9L1304.1 364.6L1306.6 366.3L1309.1 368.0L1311.6 369.7L1314.1 371.4L1316.6 373.1L1319.2 374.7L1321.7 376.4L1324.3 378.0L1326.8 379.7L1329.4 381.3L1332.0 382.9L1334.5 384.5L1337.1 386.1L1339.7 387.7L1342.3 389.2L1344.9 390.8L1347.5 392.4L1350.2 393.9L1352.8 395.4L1355.4 396.9L1358.0 398.5L1360.7 400.0L1363.3 401.5L1366.0 402.9L1368.6 404.4L1371.3 405.9L1374.0 407.3L1376.6 408.8L1379.3 410.2L1382.0 411.6L1384.7 413.1L1387.4 414.5L1390.1 415.9L1392.8 417.3L1395.5 418.6L1398.2 420.0L1400.9 421.4L1403.6 422.7L1406.3 424.1L1409.0 425.4L1411.8 426.7L1414.5 428.1L1417.2 429.4L1420.0 430.7L1422.7 432.0L1425.4 433.2L1428.2 434.5L1430.9 435.8L1433.7 437.0L1436.4 438.3L1439.2 439.5L1441.9 440.7L1444.7 442.0L1447.4 443.2L1450.2 444.4L1453.0 445.6L1455.7 446.8L1458.5 448.0L1461.2 449.1L1464.0 450.3L1466.8 451.4L1469.5 452.6L1472.3 453.7L1475.1 454.9L1477.8 456.0L1480.6 457.1L1483.4 458.2L1486.1 459.3L1488.9 460.4L1491.7 461.5L1494.4 462.6L1497.2 463.6L1500.0 464.7" stroke="#2e2b8f" stroke-width="3.7" stroke-dasharray="19 21" stroke-dashoffset="0"/>
<path d="M1057.5 29.4L1060.0 31.0L1062.2 33.0L1064.1 35.2L1065.9 37.7L1067.4 40.3L1068.9 43.0L1070.3 45.7L1071.6 48.4L1072.9 51.2L1074.2 53.9L1075.5 56.7L1076.7 59.5L1077.9 62.3L1079.0 65.0L1080.2 67.8L1081.3 70.6L1082.4 73.4L1083.5 76.3L1084.6 79.1L1085.6 81.9L1086.6 84.7L1087.6 87.6L1088.6 90.4L1089.6 93.2L1090.6 96.1L1091.6 98.9L1092.5 101.8L1093.4 104.6L1094.4 107.5L1095.3 110.3L1096.2 113.2L1097.2 116.1L1098.1 118.9L1099.0 121.8L1099.9 124.7L1100.9 127.5L1101.8 130.4L1102.7 133.2L1103.6 136.1L1104.6 139.0L1105.5 141.8L1106.4 144.7L1107.3 147.6L1108.3 150.4L1109.2 153.3L1110.1 156.2L1111.1 159.0L1112.0 161.9L1113.0 164.8L1113.9 167.6L1114.9 170.5L1115.8 173.4L1116.8 176.2L1117.7 179.1L1118.7 181.9L1119.7 184.8L1120.6 187.6L1121.6 190.5L1122.6 193.3L1123.6 196.2L1124.6 199.0L1125.6 201.9L1126.6 204.7L1127.6 207.5L1128.7 210.4L1129.7 213.2L1130.7 216.0L1131.8 218.9L1132.9 221.7L1133.9 224.5L1135.0 227.3L1136.1 230.1L1137.2 232.9L1138.3 235.7L1139.4 238.5L1140.5 241.3L1141.6 244.1L1142.8 246.9L1143.9 249.7L1145.1 252.5L1146.3 255.2L1147.4 258.0L1148.6 260.8L1149.9 263.5L1151.1 266.3L1152.3 269.0L1153.5 271.8L1154.8 274.5L1156.1 277.2L1157.3 280.0L1158.6 282.7L1159.9 285.4L1161.3 288.1L1162.6 290.8L1163.9 293.5L1165.3 296.2L1166.7 298.8L1168.0 301.5L1169.4 304.2L1170.9 306.8L1172.3 309.5L1173.7 312.1L1175.2 314.8L1176.7 317.4L1178.1 320.0L1179.6 322.6L1181.2 325.2L1182.7 327.8L1184.2 330.4L1185.8 333.0L1187.4 335.6L1189.0 338.1L1190.6 340.7L1192.2 343.2L1193.9 345.8L1195.5 348.3L1197.2 350.8L1198.9 353.3L1200.6 355.8L1202.3 358.3L1204.1 360.8L1205.9 363.3L1207.6 365.7L1209.4 368.2L1211.3 370.6L1213.1 373.0L1214.9 375.5L1216.8 377.9L1218.7 380.2L1220.6 382.6L1222.5 384.9L1224.5 387.3L1226.4 389.6L1228.4 391.9L1230.4 394.2L1232.4 396.5L1234.4 398.7L1236.5 400.9L1238.6 403.1L1240.7 405.3L1242.8 407.5L1244.9 409.6L1247.0 411.8L1249.2 413.9L1251.4 416.0L1253.6 418.0L1255.8 420.1L1258.0 422.1L1260.2 424.1L1262.5 426.0L1264.8 428.0L1267.1 429.9L1269.4 431.8L1271.8 433.6L1274.1 435.5L1276.5 437.3L1278.9 439.0L1281.4 440.8L1283.8 442.5L1286.2 444.2L1288.7 445.9L1291.2 447.5L1293.7 449.1L1296.3 450.6L1298.8 452.2L1301.4 453.7L1304.0 455.2L1306.6 456.6L1309.2 458.1L1311.8 459.5L1314.5 460.8L1317.1 462.2L1319.8 463.5L1322.5 464.8L1325.2 466.1L1327.9 467.4L1330.7 468.6L1333.4 469.8L1336.2 471.0L1338.9 472.2L1341.7 473.4L1344.5 474.5L1347.3 475.6L1350.1 476.7L1352.9 477.8L1355.8 478.9L1358.6 479.9L1361.5 481.0L1364.3 482.0L1367.2 483.0L1370.1 484.0L1372.9 485.0L1375.8 485.9L1378.7 486.9L1381.6 487.8L1384.5 488.8L1387.4 489.7L1390.3 490.6L1393.2 491.5L1396.1 492.4L1399.1 493.3L1402.0 494.2L1404.9 495.1L1407.8 496.0L1410.8 496.8L1413.7 497.7L1416.6 498.6L1419.5 499.4L1422.5 500.3L1425.4 501.1L1428.3 502.0L1431.3 502.8L1434.2 503.7L1437.1 504.5L1440.0 505.4L1442.9 506.2L1445.8 507.1L1448.8 508.0L1451.7 508.8L1454.6 509.7L1457.5 510.6L1460.3 511.4L1463.2 512.3L1466.1 513.2L1469.0 514.1L1471.8 515.0L1474.7 515.9L1477.5 516.8L1480.4 517.7L1483.2 518.7L1486.0 519.6L1488.8 520.6L1491.6 521.5L1494.4 522.5L1497.2 523.5L1500.0 524.5" stroke="#100f0a" stroke-width="3.7" stroke-linecap="butt"/>
</g>
<g fill="none" stroke="#100f0a">
<rect x="172.95" y="564.3" width="442.05" height="563.00" stroke-width="3.6"/>
<path d="M261.4 564.3v12.0M261.4 1127.3v-12.0M349.8 564.3v24.3M349.8 1127.3v-24.3M438.2 564.3v12.0M438.2 1127.3v-12.0M526.6 564.3v24.3M526.6 1127.3v-24.3M172.95 564.3h24.0M615.0 564.3h-24.0M172.95 676.9h24.0M615.0 676.9h-24.0M172.95 789.5h24.0M615.0 789.5h-24.0M172.95 902.1h24.0M615.0 902.1h-24.0M172.95 1014.7h24.0M615.0 1014.7h-24.0M172.95 1127.3h24.0M615.0 1127.3h-24.0" stroke-width="3.0" stroke-linecap="round"/>
</g>
<g clip-path="url(#cp4)" fill="none" stroke-linecap="round" stroke-linejoin="round">
<path d="M173.0 634.8L176.2 634.4L179.3 634.5L182.2 635.0L185.0 635.8L187.6 636.9L190.1 638.4L192.4 640.1L194.7 642.0L196.8 644.1L198.8 646.4L200.8 648.8L202.6 651.2L204.4 653.7L206.2 656.2L207.8 658.8L209.5 661.3L211.0 663.9L212.5 666.5L214.0 669.1L215.5 671.8L216.9 674.4L218.3 677.1L219.7 679.8L221.0 682.5L222.4 685.2L223.7 687.9L225.1 690.6L226.4 693.3L227.8 696.0L229.2 698.7L230.5 701.4L231.9 704.1L233.4 706.8L234.8 709.5L236.2 712.2L237.7 714.8L239.2 717.5L240.6 720.2L242.1 722.8L243.6 725.5L245.2 728.1L246.7 730.8L248.3 733.4L249.8 736.0L251.4 738.6L253.0 741.2L254.6 743.8L256.3 746.4L257.9 749.0L259.6 751.5L261.2 754.1L262.9 756.6L264.6 759.1L266.3 761.7L268.1 764.2L269.8 766.7L271.6 769.2L273.3 771.6L275.1 774.1L276.9 776.5L278.7 778.9L280.6 781.4L282.4 783.8L284.3 786.1L286.2 788.5L288.1 790.9L290.0 793.2L291.9 795.5L293.8 797.9L295.8 800.2L297.7 802.5L299.7 804.7L301.7 807.0L303.7 809.2L305.7 811.5L307.8 813.7L309.8 815.9L311.9 818.1L313.9 820.3L316.0 822.4L318.1 824.6L320.2 826.7L322.4 828.9L324.5 831.0L326.7 833.1L328.8 835.2L331.0 837.3L333.2 839.3L335.4 841.4L337.6 843.4L339.8 845.4L342.0 847.5L344.3 849.5L346.5 851.5L348.8 853.4L351.1 855.4L353.4 857.3L355.7 859.3L358.0 861.2L360.3 863.1L362.6 865.0L365.0 866.9L367.3 868.8L369.7 870.7L372.0 872.6L374.4 874.4L376.8 876.2L379.2 878.1L381.6 879.9L384.1 881.7L386.5 883.5L388.9 885.2L391.4 887.0L393.8 888.8L396.3 890.5L398.8 892.2L401.3 894.0L403.7 895.7L406.2 897.4L408.8 899.1L411.3 900.8L413.8 902.4L416.3 904.1L418.9 905.7L421.4 907.4L424.0 909.0L426.5 910.6L429.1 912.2L431.7 913.8L434.3 915.4L436.9 917.0L439.5 918.5L442.1 920.1L444.7 921.6L447.3 923.2L449.9 924.7L452.6 926.2L455.2 927.7L457.9 929.2L460.5 930.7L463.2 932.2L465.8 933.7L468.5 935.1L471.2 936.6L473.8 938.0L476.5 939.4L479.2 940.9L481.9 942.3L484.6 943.7L487.3 945.1L490.0 946.5L492.7 947.8L495.5 949.2L498.2 950.6L500.9 951.9L503.6 953.3L506.4 954.6L509.1 955.9L511.9 957.2L514.6 958.5L517.4 959.8L520.1 961.1L522.9 962.4L525.6 963.7L528.4 964.9L531.2 966.2L533.9 967.5L536.7 968.7L539.5 969.9L542.3 971.2L545.0 972.4L547.8 973.6L550.6 974.8L553.4 976.0L556.2 977.2L559.0 978.3L561.8 979.5L564.6 980.7L567.4 981.8L570.2 983.0L573.0 984.1L575.8 985.3L578.6 986.4L581.4 987.5L584.2 988.6L587.0 989.7L589.8 990.9L592.6 991.9L595.4 993.0L598.2 994.1L601.0 995.2L603.8 996.3L606.6 997.3L609.4 998.4L612.2 999.4L615.0 1000.5" stroke="#6eab24" stroke-width="3.7" stroke-dasharray="23.5 10.8 2.6 10.9" stroke-dashoffset="0"/>
<path d="M173.0 661.0L174.3 663.8L175.7 666.5L177.2 669.1L178.7 671.7L180.3 674.3L182.0 676.8L183.6 679.3L185.3 681.8L187.1 684.3L188.9 686.7L190.7 689.1L192.6 691.4L194.5 693.8L196.4 696.1L198.3 698.4L200.3 700.8L202.2 703.0L204.2 705.3L206.2 707.6L208.2 709.9L210.2 712.2L212.2 714.4L214.2 716.7L216.2 719.0L218.1 721.3L220.1 723.6L222.0 725.9L224.0 728.2L225.9 730.6L227.8 732.9L229.7 735.2L231.6 737.6L233.5 740.0L235.4 742.3L237.3 744.7L239.2 747.1L241.0 749.4L242.9 751.8L244.8 754.2L246.6 756.6L248.5 759.0L250.4 761.3L252.2 763.7L254.1 766.1L256.0 768.5L257.9 770.9L259.7 773.2L261.6 775.6L263.5 778.0L265.4 780.3L267.3 782.7L269.2 785.0L271.2 787.4L273.1 789.7L275.0 792.1L277.0 794.4L278.9 796.7L280.9 799.0L282.8 801.4L284.8 803.7L286.8 806.0L288.8 808.3L290.8 810.5L292.8 812.8L294.8 815.1L296.9 817.3L298.9 819.6L301.0 821.8L303.0 824.0L305.1 826.3L307.1 828.5L309.2 830.7L311.3 832.9L313.4 835.1L315.5 837.2L317.7 839.4L319.8 841.5L321.9 843.7L324.1 845.8L326.3 847.9L328.4 850.0L330.6 852.1L332.8 854.2L335.0 856.3L337.2 858.3L339.5 860.4L341.7 862.4L344.0 864.4L346.2 866.4L348.5 868.4L350.8 870.4L353.1 872.3L355.4 874.3L357.7 876.2L360.0 878.1L362.4 880.0L364.7 881.9L367.1 883.7L369.5 885.6L371.9 887.4L374.3 889.2L376.7 891.0L379.1 892.8L381.6 894.6L384.0 896.4L386.5 898.1L388.9 899.8L391.4 901.6L393.9 903.3L396.4 904.9L398.9 906.6L401.4 908.3L404.0 909.9L406.5 911.5L409.1 913.2L411.6 914.8L414.2 916.4L416.8 917.9L419.3 919.5L421.9 921.1L424.5 922.6L427.2 924.1L429.8 925.7L432.4 927.2L435.0 928.7L437.7 930.1L440.3 931.6L443.0 933.1L445.6 934.5L448.3 936.0L451.0 937.4L453.7 938.8L456.4 940.2L459.1 941.6L461.8 943.0L464.5 944.4L467.2 945.8L469.9 947.1L472.6 948.5L475.4 949.8L478.1 951.1L480.9 952.5L483.6 953.8L486.3 955.1L489.1 956.4L491.9 957.7L494.6 958.9L497.4 960.2L500.2 961.5L502.9 962.7L505.7 964.0L508.5 965.2L511.3 966.4L514.1 967.7L516.9 968.9L519.6 970.1L522.4 971.3L525.2 972.5L528.0 973.7L530.8 974.9L533.6 976.1L536.4 977.3L539.3 978.4L542.1 979.6L544.9 980.8L547.7 981.9L550.5 983.1L553.3 984.2L556.1 985.3L558.9 986.5L561.7 987.6L564.5 988.7L567.4 989.9L570.2 991.0L573.0 992.1L575.8 993.2L578.6 994.3L581.4 995.4L584.2 996.5L587.0 997.6L589.8 998.7L592.6 999.8L595.4 1000.9L598.2 1002.0L601.0 1003.1L603.8 1004.2L606.6 1005.3L609.4 1006.4L612.2 1007.5L615.0 1008.5" stroke="#c1121f" stroke-width="5.3" stroke-dasharray="4.2 20.0" stroke-dashoffset="-2.4"/>
<path d="M173.0 629.0L175.0 625.6L177.3 623.1L179.9 621.5L182.5 620.8L185.2 620.7L187.9 621.3L190.5 622.4L192.9 624.0L195.2 626.0L197.4 628.2L199.4 630.7L201.3 633.2L203.1 635.8L204.8 638.4L206.5 641.1L208.0 643.7L209.5 646.4L211.0 649.1L212.4 651.8L213.8 654.5L215.2 657.2L216.5 659.9L217.9 662.6L219.2 665.2L220.5 667.9L221.7 670.7L223.0 673.4L224.2 676.1L225.5 678.8L226.7 681.5L227.9 684.2L229.2 686.9L230.4 689.6L231.7 692.3L232.9 695.0L234.2 697.7L235.5 700.4L236.8 703.1L238.1 705.9L239.5 708.6L240.8 711.3L242.2 714.0L243.5 716.7L244.9 719.4L246.3 722.1L247.7 724.7L249.1 727.4L250.5 730.1L252.0 732.8L253.4 735.5L254.9 738.1L256.4 740.8L257.9 743.4L259.4 746.1L260.9 748.7L262.5 751.4L264.0 754.0L265.6 756.6L267.1 759.2L268.7 761.8L270.3 764.4L272.0 767.0L273.6 769.6L275.3 772.2L276.9 774.7L278.6 777.2L280.3 779.8L282.0 782.3L283.7 784.8L285.5 787.3L287.2 789.8L289.0 792.3L290.8 794.7L292.6 797.2L294.4 799.6L296.3 802.0L298.1 804.4L300.0 806.8L301.9 809.2L303.8 811.5L305.7 813.8L307.6 816.2L309.6 818.5L311.5 820.8L313.5 823.0L315.5 825.3L317.5 827.5L319.5 829.8L321.6 832.0L323.6 834.2L325.7 836.4L327.8 838.5L329.9 840.7L332.0 842.8L334.1 844.9L336.3 847.0L338.5 849.1L340.6 851.2L342.8 853.3L345.0 855.3L347.2 857.3L349.4 859.4L351.7 861.4L353.9 863.4L356.2 865.3L358.5 867.3L360.8 869.2L363.1 871.2L365.4 873.1L367.7 875.0L370.1 876.9L372.4 878.8L374.8 880.7L377.1 882.5L379.5 884.4L381.9 886.2L384.3 888.0L386.7 889.8L389.2 891.6L391.6 893.4L394.0 895.2L396.5 896.9L399.0 898.6L401.4 900.4L403.9 902.1L406.4 903.8L408.9 905.5L411.5 907.2L414.0 908.9L416.5 910.5L419.0 912.2L421.6 913.8L424.2 915.4L426.7 917.1L429.3 918.7L431.9 920.3L434.5 921.8L437.1 923.4L439.7 925.0L442.3 926.5L444.9 928.1L447.5 929.6L450.2 931.1L452.8 932.6L455.5 934.1L458.1 935.6L460.8 937.1L463.4 938.6L466.1 940.0L468.8 941.5L471.5 942.9L474.2 944.4L476.9 945.8L479.6 947.2L482.3 948.6L485.0 950.0L487.7 951.4L490.4 952.8L493.1 954.2L495.9 955.5L498.6 956.9L501.3 958.2L504.1 959.6L506.8 960.9L509.6 962.2L512.3 963.5L515.1 964.8L517.8 966.1L520.6 967.4L523.3 968.7L526.1 970.0L528.9 971.3L531.6 972.5L534.4 973.8L537.2 975.0L539.9 976.3L542.7 977.5L545.5 978.7L548.3 980.0L551.1 981.2L553.8 982.4L556.6 983.6L559.4 984.8L562.2 986.0L565.0 987.1L567.8 988.3L570.5 989.5L573.3 990.7L576.1 991.8L578.9 993.0L581.7 994.1L584.5 995.3L587.2 996.4L590.0 997.5L592.8 998.7L595.6 999.8L598.4 1000.9L601.1 1002.0L603.9 1003.1L606.7 1004.2L609.4 1005.3L612.2 1006.4L615.0 1007.5" stroke="#2e2b8f" stroke-width="3.7" stroke-dasharray="19 21" stroke-dashoffset="0"/>
<path d="M173.1 582.3L175.8 583.7L178.1 585.5L180.0 587.7L181.7 590.2L183.2 592.8L184.6 595.5L185.9 598.3L187.2 601.1L188.4 603.8L189.5 606.7L190.6 609.5L191.7 612.3L192.7 615.2L193.8 618.1L194.8 620.9L195.7 623.8L196.7 626.7L197.7 629.5L198.7 632.4L199.7 635.3L200.7 638.1L201.7 641.0L202.7 643.8L203.6 646.7L204.6 649.6L205.6 652.4L206.6 655.3L207.6 658.1L208.6 661.0L209.6 663.8L210.5 666.7L211.5 669.5L212.5 672.3L213.5 675.2L214.5 678.0L215.5 680.9L216.5 683.7L217.5 686.6L218.5 689.4L219.5 692.2L220.5 695.1L221.5 697.9L222.5 700.8L223.5 703.6L224.5 706.4L225.5 709.3L226.5 712.1L227.5 714.9L228.5 717.8L229.5 720.6L230.5 723.5L231.5 726.3L232.5 729.1L233.6 732.0L234.6 734.8L235.6 737.7L236.6 740.5L237.7 743.3L238.7 746.2L239.8 749.0L240.8 751.9L241.8 754.7L242.9 757.5L243.9 760.4L245.0 763.2L246.0 766.1L247.1 768.9L248.2 771.8L249.2 774.6L250.3 777.5L251.4 780.3L252.5 783.2L253.6 786.0L254.7 788.8L255.8 791.7L256.9 794.5L258.0 797.3L259.2 800.2L260.3 803.0L261.5 805.8L262.6 808.6L263.8 811.4L265.0 814.2L266.2 817.0L267.4 819.8L268.6 822.6L269.9 825.4L271.1 828.2L272.4 830.9L273.6 833.7L274.9 836.4L276.2 839.2L277.5 841.9L278.9 844.6L280.2 847.3L281.6 850.0L283.0 852.7L284.4 855.4L285.8 858.1L287.2 860.7L288.7 863.4L290.2 866.0L291.7 868.6L293.2 871.2L294.7 873.8L296.3 876.4L297.8 879.0L299.4 881.5L301.1 884.1L302.7 886.6L304.4 889.1L306.1 891.6L307.8 894.0L309.5 896.5L311.3 898.9L313.0 901.4L314.9 903.8L316.7 906.1L318.6 908.5L320.4 910.9L322.4 913.2L324.3 915.5L326.2 917.8L328.2 920.1L330.2 922.3L332.2 924.6L334.3 926.8L336.3 929.0L338.4 931.2L340.5 933.4L342.7 935.5L344.8 937.6L347.0 939.8L349.2 941.8L351.4 943.9L353.6 946.0L355.8 948.0L358.1 950.0L360.4 952.0L362.7 954.0L365.0 955.9L367.3 957.9L369.7 959.8L372.0 961.7L374.4 963.6L376.8 965.4L379.2 967.3L381.6 969.1L384.1 970.9L386.5 972.7L389.0 974.4L391.4 976.2L393.9 977.9L396.4 979.6L399.0 981.3L401.5 982.9L404.0 984.6L406.6 986.2L409.1 987.8L411.7 989.3L414.3 990.9L416.9 992.4L419.5 994.0L422.1 995.5L424.7 997.0L427.4 998.4L430.0 999.9L432.7 1001.3L435.3 1002.7L438.0 1004.1L440.7 1005.5L443.4 1006.9L446.1 1008.2L448.8 1009.6L451.5 1010.9L454.2 1012.2L457.0 1013.5L459.7 1014.8L462.4 1016.1L465.2 1017.4L467.9 1018.6L470.7 1019.8L473.5 1021.1L476.3 1022.3L479.0 1023.5L481.8 1024.7L484.6 1025.8L487.4 1027.0L490.2 1028.2L493.0 1029.3L495.8 1030.5L498.6 1031.6L501.5 1032.7L504.3 1033.8L507.1 1035.0L509.9 1036.1L512.8 1037.2L515.6 1038.2L518.4 1039.3L521.3 1040.4L524.1 1041.5L527.0 1042.5L529.8 1043.6L532.7 1044.6L535.5 1045.7L538.4 1046.7L541.2 1047.8L544.1 1048.8L546.9 1049.8L549.8 1050.9L552.6 1051.9L555.5 1052.9L558.3 1053.9L561.2 1055.0L564.1 1056.0L566.9 1057.0L569.8 1058.0L572.6 1059.0L575.4 1060.1L578.3 1061.1L581.1 1062.1L584.0 1063.1L586.8 1064.1L589.6 1065.2L592.5 1066.2L595.3 1067.2L598.1 1068.3L600.9 1069.3L603.8 1070.3L606.6 1071.4L609.4 1072.4L612.2 1073.5L615.0 1074.5" stroke="#100f0a" stroke-width="3.7" stroke-linecap="butt"/>
</g>
<g fill="none" stroke="#100f0a">
<rect x="615.0" y="564.3" width="442.50" height="563.00" stroke-width="3.6"/>
<path d="M703.5 564.3v12.0M703.5 1127.3v-12.0M792.0 564.3v24.3M792.0 1127.3v-24.3M880.5 564.3v12.0M880.5 1127.3v-12.0M969.0 564.3v24.3M969.0 1127.3v-24.3M615.0 564.3h24.0M1057.5 564.3h-24.0M615.0 676.9h24.0M1057.5 676.9h-24.0M615.0 789.5h24.0M1057.5 789.5h-24.0M615.0 902.1h24.0M1057.5 902.1h-24.0M615.0 1014.7h24.0M1057.5 1014.7h-24.0M615.0 1127.3h24.0M1057.5 1127.3h-24.0" stroke-width="3.0" stroke-linecap="round"/>
</g>
<g clip-path="url(#cp5)" fill="none" stroke-linecap="round" stroke-linejoin="round">
<path d="M615.4 652.9L618.5 653.1L621.5 653.6L624.3 654.5L627.0 655.6L629.7 657.0L632.2 658.6L634.6 660.4L636.9 662.3L639.2 664.3L641.4 666.4L643.5 668.6L645.6 670.8L647.7 673.0L649.7 675.3L651.7 677.6L653.7 679.9L655.6 682.2L657.5 684.6L659.4 687.0L661.2 689.3L663.0 691.7L664.8 694.1L666.6 696.5L668.4 698.9L670.2 701.4L671.9 703.8L673.7 706.2L675.4 708.7L677.2 711.1L678.9 713.6L680.7 716.0L682.4 718.5L684.2 720.9L685.9 723.4L687.7 725.8L689.5 728.2L691.3 730.7L693.1 733.1L694.9 735.6L696.7 738.0L698.5 740.4L700.3 742.9L702.1 745.3L704.0 747.7L705.8 750.1L707.7 752.5L709.5 754.9L711.4 757.3L713.3 759.7L715.1 762.1L717.0 764.5L718.9 766.9L720.8 769.2L722.8 771.6L724.7 773.9L726.6 776.3L728.6 778.6L730.5 781.0L732.5 783.3L734.5 785.6L736.5 787.9L738.4 790.2L740.5 792.4L742.5 794.7L744.5 797.0L746.5 799.2L748.6 801.4L750.6 803.6L752.7 805.8L754.8 808.0L756.9 810.2L759.0 812.4L761.1 814.5L763.3 816.7L765.4 818.8L767.6 820.9L769.7 823.0L771.9 825.1L774.1 827.2L776.3 829.2L778.5 831.3L780.7 833.3L783.0 835.3L785.2 837.3L787.4 839.3L789.7 841.3L792.0 843.3L794.3 845.2L796.6 847.2L798.9 849.1L801.2 851.0L803.5 852.9L805.9 854.8L808.2 856.7L810.6 858.6L812.9 860.5L815.3 862.3L817.7 864.1L820.1 866.0L822.5 867.8L824.9 869.6L827.3 871.4L829.7 873.1L832.2 874.9L834.6 876.7L837.1 878.4L839.5 880.2L842.0 881.9L844.5 883.6L847.0 885.3L849.5 887.0L852.0 888.7L854.5 890.3L857.0 892.0L859.5 893.6L862.0 895.3L864.6 896.9L867.1 898.5L869.7 900.1L872.2 901.7L874.8 903.3L877.4 904.9L880.0 906.5L882.6 908.0L885.1 909.6L887.7 911.1L890.4 912.7L893.0 914.2L895.6 915.7L898.2 917.2L900.8 918.7L903.5 920.2L906.1 921.7L908.8 923.1L911.4 924.6L914.1 926.0L916.7 927.5L919.4 928.9L922.1 930.3L924.8 931.8L927.4 933.2L930.1 934.6L932.8 936.0L935.5 937.3L938.2 938.7L940.9 940.1L943.6 941.4L946.4 942.8L949.1 944.1L951.8 945.5L954.5 946.8L957.2 948.1L960.0 949.4L962.7 950.8L965.5 952.1L968.2 953.3L970.9 954.6L973.7 955.9L976.4 957.2L979.2 958.5L981.9 959.7L984.7 961.0L987.5 962.2L990.2 963.4L993.0 964.7L995.8 965.9L998.5 967.1L1001.3 968.3L1004.1 969.6L1006.9 970.8L1009.6 972.0L1012.4 973.1L1015.2 974.3L1018.0 975.5L1020.8 976.7L1023.5 977.8L1026.3 979.0L1029.1 980.2L1031.9 981.3L1034.7 982.5L1037.5 983.6L1040.3 984.7L1043.1 985.9L1045.9 987.0L1048.6 988.1L1051.4 989.2L1054.2 990.3L1057.0 991.5" stroke="#6eab24" stroke-width="3.7" stroke-dasharray="23.5 10.8 2.6 10.9" stroke-dashoffset="0"/>
<path d="M615.5 660.9L617.8 662.8L620.1 664.8L622.4 666.8L624.6 668.8L626.9 670.8L629.1 672.8L631.3 674.8L633.5 676.9L635.7 679.0L637.9 681.0L640.0 683.1L642.1 685.3L644.3 687.4L646.4 689.5L648.5 691.7L650.6 693.9L652.7 696.0L654.7 698.2L656.8 700.4L658.8 702.6L660.9 704.9L662.9 707.1L664.9 709.3L666.9 711.6L668.9 713.8L670.9 716.1L672.9 718.4L674.9 720.6L676.9 722.9L678.9 725.2L680.9 727.5L682.8 729.8L684.8 732.1L686.8 734.4L688.7 736.7L690.7 739.0L692.7 741.3L694.6 743.6L696.6 745.9L698.5 748.2L700.5 750.5L702.5 752.8L704.4 755.1L706.4 757.4L708.4 759.7L710.3 762.1L712.3 764.3L714.3 766.6L716.3 768.9L718.3 771.2L720.2 773.5L722.2 775.8L724.3 778.0L726.3 780.3L728.3 782.6L730.3 784.8L732.3 787.1L734.4 789.3L736.4 791.5L738.5 793.8L740.5 796.0L742.6 798.2L744.6 800.4L746.7 802.6L748.8 804.8L750.9 807.0L753.0 809.2L755.1 811.3L757.2 813.5L759.3 815.6L761.4 817.8L763.6 819.9L765.7 822.0L767.9 824.2L770.0 826.3L772.2 828.4L774.4 830.4L776.5 832.5L778.7 834.6L780.9 836.7L783.1 838.7L785.4 840.7L787.6 842.8L789.8 844.8L792.1 846.8L794.3 848.8L796.6 850.8L798.8 852.7L801.1 854.7L803.4 856.6L805.7 858.6L808.0 860.5L810.4 862.4L812.7 864.3L815.0 866.2L817.4 868.0L819.8 869.9L822.1 871.7L824.5 873.6L826.9 875.4L829.3 877.2L831.7 879.0L834.2 880.8L836.6 882.5L839.1 884.3L841.5 886.0L844.0 887.7L846.5 889.5L848.9 891.2L851.4 892.9L853.9 894.5L856.5 896.2L859.0 897.9L861.5 899.5L864.0 901.1L866.6 902.8L869.1 904.4L871.7 906.0L874.3 907.5L876.9 909.1L879.4 910.7L882.0 912.2L884.6 913.8L887.2 915.3L889.9 916.8L892.5 918.4L895.1 919.9L897.7 921.3L900.4 922.8L903.0 924.3L905.7 925.8L908.4 927.2L911.0 928.7L913.7 930.1L916.4 931.5L919.0 932.9L921.7 934.3L924.4 935.7L927.1 937.1L929.8 938.5L932.5 939.9L935.2 941.2L938.0 942.6L940.7 943.9L943.4 945.3L946.1 946.6L948.9 947.9L951.6 949.2L954.4 950.5L957.1 951.8L959.8 953.1L962.6 954.4L965.3 955.7L968.1 957.0L970.9 958.2L973.6 959.5L976.4 960.7L979.2 962.0L981.9 963.2L984.7 964.4L987.5 965.7L990.2 966.9L993.0 968.1L995.8 969.3L998.6 970.5L1001.4 971.7L1004.1 972.9L1006.9 974.1L1009.7 975.2L1012.5 976.4L1015.3 977.6L1018.0 978.7L1020.8 979.9L1023.6 981.0L1026.4 982.2L1029.2 983.3L1032.0 984.5L1034.8 985.6L1037.5 986.7L1040.3 987.8L1043.1 989.0L1045.9 990.1L1048.7 991.2L1051.4 992.3L1054.2 993.4L1057.0 994.5" stroke="#c1121f" stroke-width="5.3" stroke-dasharray="4.2 20.0" stroke-dashoffset="-2.4"/>
<path d="M615.4 647.0L618.1 644.7L620.9 643.3L623.6 642.7L626.4 642.7L629.0 643.3L631.6 644.4L634.1 645.9L636.5 647.6L638.8 649.6L641.0 651.7L643.2 654.0L645.2 656.4L647.2 658.9L649.2 661.4L651.1 663.9L653.0 666.4L654.8 668.9L656.6 671.4L658.4 673.9L660.2 676.4L661.9 678.9L663.6 681.4L665.3 683.9L667.0 686.4L668.6 688.9L670.2 691.4L671.9 693.9L673.5 696.4L675.1 698.9L676.7 701.4L678.3 703.9L679.9 706.4L681.5 708.9L683.2 711.4L684.8 713.9L686.4 716.4L688.1 718.9L689.7 721.4L691.4 723.9L693.1 726.4L694.8 728.8L696.5 731.3L698.2 733.8L699.9 736.3L701.6 738.8L703.3 741.2L705.1 743.7L706.8 746.2L708.6 748.6L710.4 751.1L712.1 753.5L713.9 756.0L715.7 758.4L717.5 760.9L719.4 763.3L721.2 765.7L723.0 768.1L724.9 770.5L726.7 772.9L728.6 775.3L730.5 777.7L732.4 780.1L734.3 782.4L736.2 784.8L738.1 787.1L740.1 789.4L742.0 791.8L744.0 794.1L746.0 796.4L748.0 798.7L750.0 801.0L752.0 803.2L754.0 805.5L756.0 807.7L758.1 810.0L760.1 812.2L762.2 814.4L764.3 816.6L766.4 818.8L768.5 820.9L770.6 823.1L772.8 825.2L774.9 827.3L777.1 829.4L779.2 831.5L781.4 833.6L783.6 835.7L785.8 837.7L788.0 839.8L790.3 841.8L792.5 843.8L794.8 845.8L797.0 847.8L799.3 849.8L801.6 851.7L803.9 853.7L806.2 855.6L808.5 857.5L810.9 859.4L813.2 861.3L815.6 863.2L817.9 865.0L820.3 866.9L822.7 868.7L825.1 870.6L827.5 872.4L829.9 874.2L832.3 876.0L834.8 877.8L837.2 879.5L839.7 881.3L842.1 883.0L844.6 884.8L847.1 886.5L849.6 888.2L852.0 889.9L854.5 891.6L857.1 893.3L859.6 894.9L862.1 896.6L864.6 898.2L867.2 899.8L869.7 901.5L872.3 903.1L874.9 904.7L877.4 906.3L880.0 907.9L882.6 909.4L885.2 911.0L887.8 912.5L890.4 914.1L893.0 915.6L895.6 917.1L898.3 918.6L900.9 920.1L903.5 921.6L906.2 923.1L908.8 924.6L911.5 926.0L914.1 927.5L916.8 929.0L919.5 930.4L922.2 931.8L924.8 933.2L927.5 934.6L930.2 936.0L932.9 937.4L935.6 938.8L938.3 940.2L941.0 941.6L943.7 942.9L946.5 944.3L949.2 945.6L951.9 947.0L954.6 948.3L957.4 949.6L960.1 950.9L962.8 952.3L965.6 953.6L968.3 954.8L971.1 956.1L973.8 957.4L976.6 958.7L979.3 960.0L982.1 961.2L984.8 962.5L987.6 963.7L990.4 964.9L993.1 966.2L995.9 967.4L998.7 968.6L1001.4 969.8L1004.2 971.1L1007.0 972.3L1009.8 973.5L1012.5 974.6L1015.3 975.8L1018.1 977.0L1020.9 978.2L1023.7 979.4L1026.4 980.5L1029.2 981.7L1032.0 982.8L1034.8 984.0L1037.5 985.1L1040.3 986.3L1043.1 987.4L1045.9 988.5L1048.7 989.7L1051.4 990.8L1054.2 991.9L1057.0 993.0" stroke="#2e2b8f" stroke-width="3.7" stroke-dasharray="19 21" stroke-dashoffset="0"/>
<path d="M615.5 582.9L617.9 584.7L620.1 586.8L622.1 589.0L623.9 591.3L625.6 593.8L627.2 596.3L628.6 598.9L630.1 601.6L631.4 604.3L632.8 607.0L634.1 609.8L635.4 612.5L636.7 615.3L637.9 618.1L639.1 620.9L640.3 623.7L641.5 626.5L642.7 629.3L643.8 632.1L644.9 635.0L646.1 637.8L647.2 640.6L648.3 643.5L649.4 646.3L650.5 649.1L651.6 651.9L652.7 654.8L653.8 657.6L654.9 660.4L656.0 663.2L657.1 666.0L658.3 668.8L659.4 671.6L660.5 674.4L661.6 677.2L662.7 679.9L663.8 682.7L665.0 685.5L666.1 688.3L667.3 691.0L668.4 693.8L669.6 696.5L670.7 699.3L671.9 702.1L673.1 704.8L674.3 707.6L675.5 710.3L676.7 713.0L677.9 715.8L679.2 718.5L680.4 721.3L681.7 724.0L682.9 726.7L684.2 729.4L685.5 732.2L686.8 734.9L688.1 737.6L689.5 740.3L690.8 743.0L692.2 745.7L693.6 748.4L694.9 751.1L696.3 753.8L697.7 756.5L699.2 759.2L700.6 761.8L702.1 764.5L703.5 767.2L705.0 769.8L706.5 772.5L708.0 775.1L709.5 777.8L711.0 780.4L712.6 783.0L714.1 785.6L715.7 788.2L717.3 790.8L718.9 793.4L720.5 796.0L722.1 798.6L723.7 801.1L725.4 803.7L727.0 806.2L728.7 808.8L730.4 811.3L732.1 813.8L733.8 816.3L735.6 818.8L737.3 821.3L739.1 823.7L740.8 826.2L742.6 828.7L744.4 831.1L746.3 833.5L748.1 835.9L749.9 838.3L751.8 840.7L753.7 843.1L755.6 845.5L757.5 847.8L759.4 850.1L761.3 852.5L763.2 854.8L765.2 857.1L767.2 859.3L769.2 861.6L771.2 863.9L773.2 866.1L775.2 868.3L777.3 870.5L779.3 872.7L781.4 874.9L783.5 877.0L785.6 879.2L787.7 881.3L789.9 883.4L792.0 885.5L794.2 887.6L796.3 889.7L798.5 891.8L800.7 893.8L802.9 895.9L805.2 897.9L807.4 899.9L809.7 901.9L811.9 903.9L814.2 905.8L816.5 907.8L818.8 909.7L821.1 911.6L823.4 913.6L825.7 915.4L828.1 917.3L830.4 919.2L832.8 921.1L835.2 922.9L837.6 924.7L840.0 926.6L842.4 928.4L844.8 930.2L847.2 932.0L849.6 933.7L852.1 935.5L854.6 937.2L857.0 939.0L859.5 940.7L862.0 942.4L864.5 944.1L867.0 945.8L869.5 947.4L872.0 949.1L874.6 950.8L877.1 952.4L879.6 954.0L882.2 955.6L884.8 957.2L887.3 958.8L889.9 960.4L892.5 962.0L895.1 963.5L897.7 965.1L900.3 966.6L902.9 968.1L905.6 969.7L908.2 971.2L910.8 972.6L913.5 974.1L916.1 975.6L918.8 977.1L921.5 978.5L924.1 979.9L926.8 981.4L929.5 982.8L932.2 984.2L934.9 985.6L937.6 987.0L940.3 988.4L943.0 989.7L945.7 991.1L948.4 992.4L951.2 993.8L953.9 995.1L956.6 996.4L959.4 997.7L962.1 999.0L964.9 1000.3L967.6 1001.6L970.4 1002.8L973.1 1004.1L975.9 1005.4L978.7 1006.6L981.4 1007.8L984.2 1009.1L987.0 1010.3L989.8 1011.5L992.6 1012.7L995.3 1013.9L998.1 1015.1L1000.9 1016.2L1003.7 1017.4L1006.5 1018.5L1009.3 1019.7L1012.1 1020.8L1014.9 1022.0L1017.7 1023.1L1020.5 1024.2L1023.3 1025.3L1026.1 1026.4L1028.9 1027.5L1031.7 1028.6L1034.5 1029.7L1037.3 1030.7L1040.1 1031.8L1042.9 1032.8L1045.8 1033.9L1048.6 1034.9L1051.4 1035.9L1054.2 1037.0L1057.0 1038.0" stroke="#100f0a" stroke-width="3.7" stroke-linecap="butt"/>
</g>
<g fill="none" stroke="#100f0a">
<rect x="1057.5" y="564.3" width="442.40" height="563.00" stroke-width="3.6"/>
<path d="M1146.0 564.3v12.0M1146.0 1127.3v-12.0M1234.5 564.3v24.3M1234.5 1127.3v-24.3M1322.9 564.3v12.0M1322.9 1127.3v-12.0M1411.4 564.3v24.3M1411.4 1127.3v-24.3M1057.5 564.3h24.0M1499.9 564.3h-24.0M1057.5 676.9h24.0M1499.9 676.9h-24.0M1057.5 789.5h24.0M1499.9 789.5h-24.0M1057.5 902.1h24.0M1499.9 902.1h-24.0M1057.5 1014.7h24.0M1499.9 1014.7h-24.0M1057.5 1127.3h24.0M1499.9 1127.3h-24.0" stroke-width="3.0" stroke-linecap="round"/>
</g>
<g clip-path="url(#cp6)" fill="none" stroke-linecap="round" stroke-linejoin="round">
<path d="M1057.4 661.9L1060.6 661.7L1063.7 661.8L1066.6 662.3L1069.4 663.1L1072.1 664.2L1074.7 665.4L1077.2 666.9L1079.6 668.6L1081.9 670.5L1084.1 672.5L1086.3 674.6L1088.5 676.8L1090.6 679.1L1092.6 681.5L1094.6 683.9L1096.6 686.3L1098.6 688.8L1100.6 691.2L1102.6 693.6L1104.6 696.0L1106.6 698.3L1108.6 700.6L1110.6 702.9L1112.5 705.2L1114.5 707.5L1116.5 709.7L1118.5 712.0L1120.5 714.2L1122.5 716.4L1124.5 718.6L1126.5 720.8L1128.5 723.0L1130.5 725.2L1132.5 727.4L1134.5 729.6L1136.5 731.8L1138.6 734.0L1140.6 736.2L1142.6 738.4L1144.6 740.6L1146.6 742.8L1148.7 745.0L1150.7 747.2L1152.7 749.4L1154.8 751.6L1156.8 753.9L1158.9 756.1L1160.9 758.3L1163.0 760.5L1165.0 762.7L1167.1 764.9L1169.2 767.1L1171.3 769.3L1173.3 771.5L1175.4 773.7L1177.5 775.9L1179.6 778.1L1181.7 780.3L1183.8 782.5L1185.9 784.7L1188.0 786.9L1190.2 789.0L1192.3 791.2L1194.4 793.4L1196.6 795.5L1198.7 797.7L1200.9 799.8L1203.1 802.0L1205.2 804.1L1207.4 806.2L1209.6 808.3L1211.8 810.4L1214.0 812.5L1216.2 814.6L1218.5 816.6L1220.7 818.7L1222.9 820.8L1225.2 822.8L1227.4 824.8L1229.7 826.8L1232.0 828.8L1234.2 830.8L1236.5 832.8L1238.8 834.8L1241.2 836.7L1243.5 838.7L1245.8 840.6L1248.1 842.5L1250.5 844.5L1252.8 846.3L1255.2 848.2L1257.6 850.1L1259.9 852.0L1262.3 853.8L1264.7 855.7L1267.1 857.5L1269.5 859.3L1272.0 861.1L1274.4 862.9L1276.8 864.7L1279.3 866.5L1281.7 868.3L1284.2 870.0L1286.6 871.8L1289.1 873.5L1291.6 875.2L1294.1 876.9L1296.6 878.6L1299.0 880.3L1301.6 882.0L1304.1 883.7L1306.6 885.4L1309.1 887.0L1311.6 888.7L1314.2 890.3L1316.7 891.9L1319.3 893.5L1321.8 895.2L1324.4 896.8L1327.0 898.3L1329.5 899.9L1332.1 901.5L1334.7 903.1L1337.3 904.6L1339.9 906.2L1342.5 907.7L1345.1 909.2L1347.7 910.8L1350.3 912.3L1353.0 913.8L1355.6 915.3L1358.2 916.8L1360.9 918.2L1363.5 919.7L1366.2 921.2L1368.8 922.6L1371.5 924.1L1374.1 925.5L1376.8 927.0L1379.5 928.4L1382.1 929.8L1384.8 931.2L1387.5 932.6L1390.2 934.0L1392.9 935.4L1395.6 936.8L1398.3 938.2L1401.0 939.5L1403.7 940.9L1406.4 942.3L1409.1 943.6L1411.8 944.9L1414.5 946.3L1417.3 947.6L1420.0 948.9L1422.7 950.3L1425.5 951.6L1428.2 952.9L1430.9 954.2L1433.7 955.5L1436.4 956.8L1439.2 958.0L1441.9 959.3L1444.6 960.6L1447.4 961.9L1450.2 963.1L1452.9 964.4L1455.7 965.6L1458.4 966.9L1461.2 968.1L1464.0 969.3L1466.7 970.6L1469.5 971.8L1472.3 973.0L1475.0 974.2L1477.8 975.5L1480.6 976.7L1483.3 977.9L1486.1 979.1L1488.9 980.3L1491.7 981.4L1494.4 982.6L1497.2 983.8L1500.0 985.0" stroke="#6eab24" stroke-width="3.7" stroke-dasharray="23.5 10.8 2.6 10.9" stroke-dashoffset="0"/>
<path d="M1057.4 660.9L1060.2 662.2L1062.9 663.6L1065.6 665.0L1068.3 666.4L1070.8 667.9L1073.4 669.5L1075.9 671.1L1078.4 672.8L1080.8 674.5L1083.2 676.2L1085.6 678.0L1087.9 679.9L1090.3 681.7L1092.5 683.6L1094.8 685.6L1097.0 687.6L1099.2 689.6L1101.4 691.6L1103.6 693.7L1105.7 695.7L1107.8 697.8L1109.9 700.0L1112.0 702.1L1114.1 704.3L1116.1 706.5L1118.2 708.7L1120.2 710.9L1122.2 713.1L1124.3 715.4L1126.3 717.6L1128.2 719.9L1130.2 722.2L1132.2 724.5L1134.2 726.8L1136.2 729.1L1138.2 731.4L1140.1 733.7L1142.1 736.0L1144.1 738.3L1146.1 740.6L1148.1 742.8L1150.0 745.1L1152.0 747.4L1154.0 749.7L1156.1 752.0L1158.1 754.2L1160.1 756.5L1162.1 758.8L1164.1 761.0L1166.2 763.3L1168.2 765.5L1170.3 767.8L1172.3 770.0L1174.4 772.2L1176.4 774.4L1178.5 776.6L1180.6 778.8L1182.7 781.0L1184.8 783.2L1186.9 785.4L1189.0 787.6L1191.1 789.8L1193.2 791.9L1195.3 794.1L1197.4 796.2L1199.6 798.4L1201.7 800.5L1203.9 802.6L1206.0 804.7L1208.2 806.8L1210.4 808.9L1212.6 811.0L1214.8 813.1L1217.0 815.1L1219.2 817.2L1221.4 819.2L1223.6 821.3L1225.8 823.3L1228.1 825.3L1230.3 827.3L1232.6 829.3L1234.9 831.3L1237.1 833.3L1239.4 835.2L1241.7 837.2L1244.0 839.1L1246.3 841.1L1248.6 843.0L1251.0 844.9L1253.3 846.8L1255.7 848.7L1258.0 850.5L1260.4 852.4L1262.8 854.3L1265.1 856.1L1267.5 857.9L1269.9 859.7L1272.3 861.5L1274.8 863.3L1277.2 865.1L1279.6 866.9L1282.1 868.7L1284.5 870.4L1287.0 872.1L1289.4 873.9L1291.9 875.6L1294.4 877.3L1296.9 879.0L1299.4 880.7L1301.9 882.4L1304.4 884.0L1306.9 885.7L1309.4 887.3L1312.0 889.0L1314.5 890.6L1317.0 892.2L1319.6 893.8L1322.1 895.5L1324.7 897.0L1327.3 898.6L1329.9 900.2L1332.4 901.8L1335.0 903.3L1337.6 904.9L1340.2 906.4L1342.8 907.9L1345.4 909.5L1348.0 911.0L1350.7 912.5L1353.3 914.0L1355.9 915.5L1358.6 917.0L1361.2 918.4L1363.8 919.9L1366.5 921.4L1369.1 922.8L1371.8 924.2L1374.5 925.7L1377.1 927.1L1379.8 928.5L1382.5 929.9L1385.2 931.3L1387.8 932.7L1390.5 934.1L1393.2 935.5L1395.9 936.9L1398.6 938.3L1401.3 939.6L1404.0 941.0L1406.7 942.3L1409.4 943.7L1412.2 945.0L1414.9 946.3L1417.6 947.7L1420.3 949.0L1423.0 950.3L1425.8 951.6L1428.5 952.9L1431.2 954.2L1434.0 955.5L1436.7 956.8L1439.4 958.1L1442.2 959.3L1444.9 960.6L1447.7 961.9L1450.4 963.1L1453.2 964.4L1455.9 965.6L1458.7 966.9L1461.4 968.1L1464.2 969.3L1466.9 970.6L1469.7 971.8L1472.4 973.0L1475.2 974.2L1477.9 975.4L1480.7 976.7L1483.5 977.9L1486.2 979.1L1489.0 980.3L1491.7 981.4L1494.5 982.6L1497.2 983.8L1500.0 985.0" stroke="#c1121f" stroke-width="5.3" stroke-dasharray="4.2 20.0" stroke-dashoffset="-2.4"/>
<path d="M1057.4 658.9L1059.8 656.4L1062.4 655.2L1065.1 654.8L1067.7 655.2L1070.4 656.1L1073.0 657.4L1075.5 658.9L1077.9 660.6L1080.2 662.6L1082.5 664.7L1084.8 666.9L1087.0 669.2L1089.2 671.6L1091.3 674.0L1093.5 676.3L1095.6 678.7L1097.6 681.0L1099.7 683.3L1101.7 685.6L1103.7 687.9L1105.7 690.2L1107.7 692.5L1109.7 694.8L1111.7 697.1L1113.6 699.3L1115.6 701.6L1117.5 703.9L1119.4 706.1L1121.4 708.4L1123.3 710.6L1125.2 712.9L1127.1 715.2L1129.0 717.4L1131.0 719.7L1132.9 722.0L1134.8 724.2L1136.7 726.5L1138.7 728.8L1140.6 731.1L1142.5 733.4L1144.5 735.7L1146.4 738.0L1148.4 740.2L1150.4 742.5L1152.3 744.8L1154.3 747.1L1156.3 749.4L1158.2 751.7L1160.2 754.0L1162.2 756.3L1164.2 758.6L1166.2 760.8L1168.2 763.1L1170.2 765.4L1172.2 767.7L1174.2 769.9L1176.3 772.2L1178.3 774.5L1180.4 776.7L1182.4 779.0L1184.5 781.2L1186.5 783.5L1188.6 785.7L1190.7 787.9L1192.8 790.1L1194.8 792.4L1197.0 794.6L1199.1 796.8L1201.2 798.9L1203.3 801.1L1205.4 803.3L1207.6 805.5L1209.7 807.6L1211.9 809.8L1214.1 811.9L1216.3 814.0L1218.4 816.1L1220.6 818.2L1222.9 820.3L1225.1 822.4L1227.3 824.4L1229.5 826.5L1231.8 828.5L1234.1 830.5L1236.3 832.5L1238.6 834.5L1240.9 836.5L1243.2 838.5L1245.5 840.4L1247.8 842.4L1250.2 844.3L1252.5 846.2L1254.9 848.1L1257.2 850.0L1259.6 851.9L1262.0 853.8L1264.3 855.6L1266.7 857.5L1269.1 859.3L1271.6 861.1L1274.0 862.9L1276.4 864.7L1278.8 866.5L1281.3 868.3L1283.8 870.0L1286.2 871.8L1288.7 873.5L1291.2 875.2L1293.7 877.0L1296.1 878.7L1298.6 880.4L1301.2 882.0L1303.7 883.7L1306.2 885.4L1308.7 887.0L1311.3 888.7L1313.8 890.3L1316.4 891.9L1318.9 893.6L1321.5 895.2L1324.1 896.8L1326.6 898.3L1329.2 899.9L1331.8 901.5L1334.4 903.1L1337.0 904.6L1339.6 906.1L1342.2 907.7L1344.9 909.2L1347.5 910.7L1350.1 912.2L1352.7 913.7L1355.4 915.2L1358.0 916.7L1360.7 918.2L1363.3 919.6L1366.0 921.1L1368.7 922.5L1371.3 924.0L1374.0 925.4L1376.7 926.8L1379.4 928.3L1382.1 929.7L1384.7 931.1L1387.4 932.5L1390.1 933.9L1392.8 935.2L1395.5 936.6L1398.3 938.0L1401.0 939.4L1403.7 940.7L1406.4 942.1L1409.1 943.4L1411.9 944.7L1414.6 946.1L1417.3 947.4L1420.0 948.7L1422.8 950.0L1425.5 951.4L1428.3 952.7L1431.0 954.0L1433.7 955.3L1436.5 956.5L1439.2 957.8L1442.0 959.1L1444.7 960.4L1447.5 961.6L1450.3 962.9L1453.0 964.2L1455.8 965.4L1458.5 966.7L1461.3 967.9L1464.1 969.2L1466.8 970.4L1469.6 971.6L1472.3 972.9L1475.1 974.1L1477.9 975.3L1480.6 976.5L1483.4 977.8L1486.2 979.0L1488.9 980.2L1491.7 981.4L1494.5 982.6L1497.2 983.8L1500.0 985.0" stroke="#2e2b8f" stroke-width="3.7" stroke-dasharray="19 21" stroke-dashoffset="0"/>
<path d="M1057.5 610.9L1060.1 612.4L1062.6 614.2L1064.8 616.1L1066.9 618.2L1068.9 620.5L1070.8 622.8L1072.7 625.2L1074.5 627.6L1076.2 630.1L1077.9 632.6L1079.6 635.2L1081.3 637.7L1082.9 640.3L1084.5 642.9L1086.1 645.6L1087.7 648.2L1089.2 650.8L1090.8 653.4L1092.4 656.0L1093.9 658.6L1095.5 661.2L1097.1 663.7L1098.6 666.3L1100.2 668.9L1101.8 671.4L1103.3 674.0L1104.9 676.5L1106.5 679.0L1108.1 681.6L1109.6 684.1L1111.2 686.6L1112.8 689.1L1114.4 691.6L1116.0 694.2L1117.6 696.7L1119.2 699.2L1120.8 701.7L1122.4 704.3L1124.1 706.8L1125.7 709.3L1127.3 711.8L1129.0 714.4L1130.6 716.9L1132.3 719.4L1133.9 722.0L1135.6 724.5L1137.3 727.0L1139.0 729.5L1140.7 732.1L1142.4 734.6L1144.1 737.1L1145.8 739.6L1147.5 742.1L1149.3 744.6L1151.0 747.1L1152.8 749.6L1154.5 752.1L1156.3 754.5L1158.1 757.0L1159.9 759.5L1161.7 761.9L1163.5 764.4L1165.3 766.8L1167.2 769.2L1169.0 771.7L1170.9 774.1L1172.7 776.5L1174.6 778.9L1176.5 781.2L1178.4 783.6L1180.4 785.9L1182.3 788.3L1184.2 790.6L1186.2 792.9L1188.2 795.2L1190.1 797.5L1192.1 799.8L1194.1 802.0L1196.2 804.3L1198.2 806.5L1200.3 808.7L1202.3 810.9L1204.4 813.1L1206.5 815.3L1208.6 817.4L1210.7 819.6L1212.8 821.7L1215.0 823.8L1217.1 825.9L1219.3 828.0L1221.4 830.1L1223.6 832.2L1225.8 834.2L1228.0 836.3L1230.3 838.3L1232.5 840.3L1234.7 842.3L1237.0 844.3L1239.3 846.3L1241.5 848.2L1243.8 850.2L1246.1 852.1L1248.4 854.0L1250.7 856.0L1253.1 857.9L1255.4 859.7L1257.7 861.6L1260.1 863.5L1262.5 865.3L1264.8 867.2L1267.2 869.0L1269.6 870.8L1272.0 872.6L1274.4 874.4L1276.9 876.2L1279.3 878.0L1281.7 879.8L1284.2 881.5L1286.6 883.3L1289.1 885.0L1291.6 886.7L1294.0 888.4L1296.5 890.1L1299.0 891.8L1301.5 893.5L1304.1 895.2L1306.6 896.8L1309.1 898.5L1311.6 900.1L1314.2 901.8L1316.7 903.4L1319.3 905.0L1321.8 906.6L1324.4 908.2L1327.0 909.8L1329.6 911.4L1332.2 912.9L1334.8 914.5L1337.4 916.0L1340.0 917.6L1342.6 919.1L1345.2 920.6L1347.8 922.1L1350.4 923.6L1353.1 925.1L1355.7 926.6L1358.4 928.1L1361.0 929.6L1363.7 931.0L1366.3 932.5L1369.0 933.9L1371.7 935.4L1374.3 936.8L1377.0 938.2L1379.7 939.7L1382.4 941.1L1385.1 942.5L1387.8 943.9L1390.5 945.2L1393.2 946.6L1395.9 948.0L1398.6 949.4L1401.3 950.7L1404.0 952.1L1406.7 953.4L1409.4 954.8L1412.2 956.1L1414.9 957.4L1417.6 958.8L1420.3 960.1L1423.1 961.4L1425.8 962.7L1428.5 964.0L1431.3 965.3L1434.0 966.6L1436.8 967.8L1439.5 969.1L1442.2 970.4L1445.0 971.7L1447.7 972.9L1450.5 974.2L1453.2 975.4L1456.0 976.7L1458.7 977.9L1461.5 979.1L1464.2 980.4L1467.0 981.6L1469.7 982.8L1472.5 984.0L1475.3 985.2L1478.0 986.4L1480.8 987.7L1483.5 988.9L1486.3 990.0L1489.0 991.2L1491.8 992.4L1494.5 993.6L1497.3 994.8L1500.0 996.0" stroke="#100f0a" stroke-width="3.7" stroke-linecap="butt"/>
</g>
<g font-family="'Liberation Serif', 'DejaVu Serif', serif" font-size="46" fill="#100f0a" stroke="#100f0a" stroke-width="0.3" stroke-linejoin="round">
<text x="172.4" y="1178.3" text-anchor="middle">0</text>
<text x="349.3" y="1178.3" text-anchor="middle">4</text>
<text x="526.1" y="1178.3" text-anchor="middle">8</text>
<text x="614.5" y="1178.3" text-anchor="middle">0</text>
<text x="791.5" y="1178.3" text-anchor="middle">4</text>
<text x="968.5" y="1178.3" text-anchor="middle">8</text>
<text x="1057.0" y="1178.3" text-anchor="middle">0</text>
<text x="1234.0" y="1178.3" text-anchor="middle">4</text>
<text x="1410.9" y="1178.3" text-anchor="middle">8</text>
<text x="325.5" y="1248.3"><tspan font-style="italic">q</tspan><tspan font-family="'DejaVu Sans', sans-serif" font-size="30" dy="8.3" dx="-2.5" stroke-width="0.2">⊥</tspan><tspan dy="-8.3" dx="-3.2"> (au)</tspan></text>
<text x="767.7" y="1248.3"><tspan font-style="italic">q</tspan><tspan font-family="'DejaVu Sans', sans-serif" font-size="30" dy="8.3" dx="-2.5" stroke-width="0.2">⊥</tspan><tspan dy="-8.3" dx="-3.2"> (au)</tspan></text>
<text x="1209.9" y="1248.3"><tspan font-style="italic">q</tspan><tspan font-family="'DejaVu Sans', sans-serif" font-size="30" dy="8.3" dx="-2.5" stroke-width="0.2">⊥</tspan><tspan dy="-8.3" dx="-3.2"> (au)</tspan></text>
<text x="71.6" y="126.2">10<tspan font-size="31" dy="-19" dx="0.8">-9</tspan></text>
<text x="71.6" y="464.2">10<tspan font-size="31" dy="-19" dx="0.8">-12</tspan></text>
<text x="71.6" y="689.4">10<tspan font-size="31" dy="-19" dx="0.8">-9</tspan></text>
<text x="71.6" y="1027.2">10<tspan font-size="31" dy="-19" dx="0.8">-12</tspan></text>
<text transform="translate(44.9 414.4) rotate(-90)" x="0" y="0"><tspan letter-spacing="0.7">dσ/dΩ</tspan><tspan font-size="31" dy="8.4">L</tspan><tspan dy="-8.4" dx="-1.7" xml:space="preserve" style="white-space:pre">  (cm</tspan><tspan font-size="31" dy="-22.7">2</tspan><tspan dy="22.7">)</tspan></text>
<text transform="translate(44.9 953.5) rotate(-90)" x="0" y="0"><tspan letter-spacing="0.7">dσ/dΩ</tspan><tspan font-size="31" dy="8.4">L</tspan><tspan dy="-8.4" dx="-1.7" xml:space="preserve" style="white-space:pre">  (cm</tspan><tspan font-size="31" dy="-22.7">2</tspan><tspan dy="22.7">)</tspan></text>
<text x="342.5" y="98.6">6.25keVu<tspan font-size="31" dy="-23.3">-1</tspan></text>
<text x="779" y="106.5">12.5 keVu<tspan font-size="31" dy="-23.3">-1</tspan></text>
<text x="1258.5" y="98.2">25 keVu<tspan font-size="31" dy="-23.3">-1</tspan></text>
<text x="383.5" y="661.6">50 keVu<tspan font-size="31" dy="-23.3">-1</tspan></text>
<text x="817.5" y="661.6">100 keVu<tspan font-size="31" dy="-23.3">-1</tspan></text>
<text x="1242.5" y="669.3">200 keVu<tspan font-size="31" dy="-23.3">-1</tspan></text>
</g>
</svg>
</body></html>
